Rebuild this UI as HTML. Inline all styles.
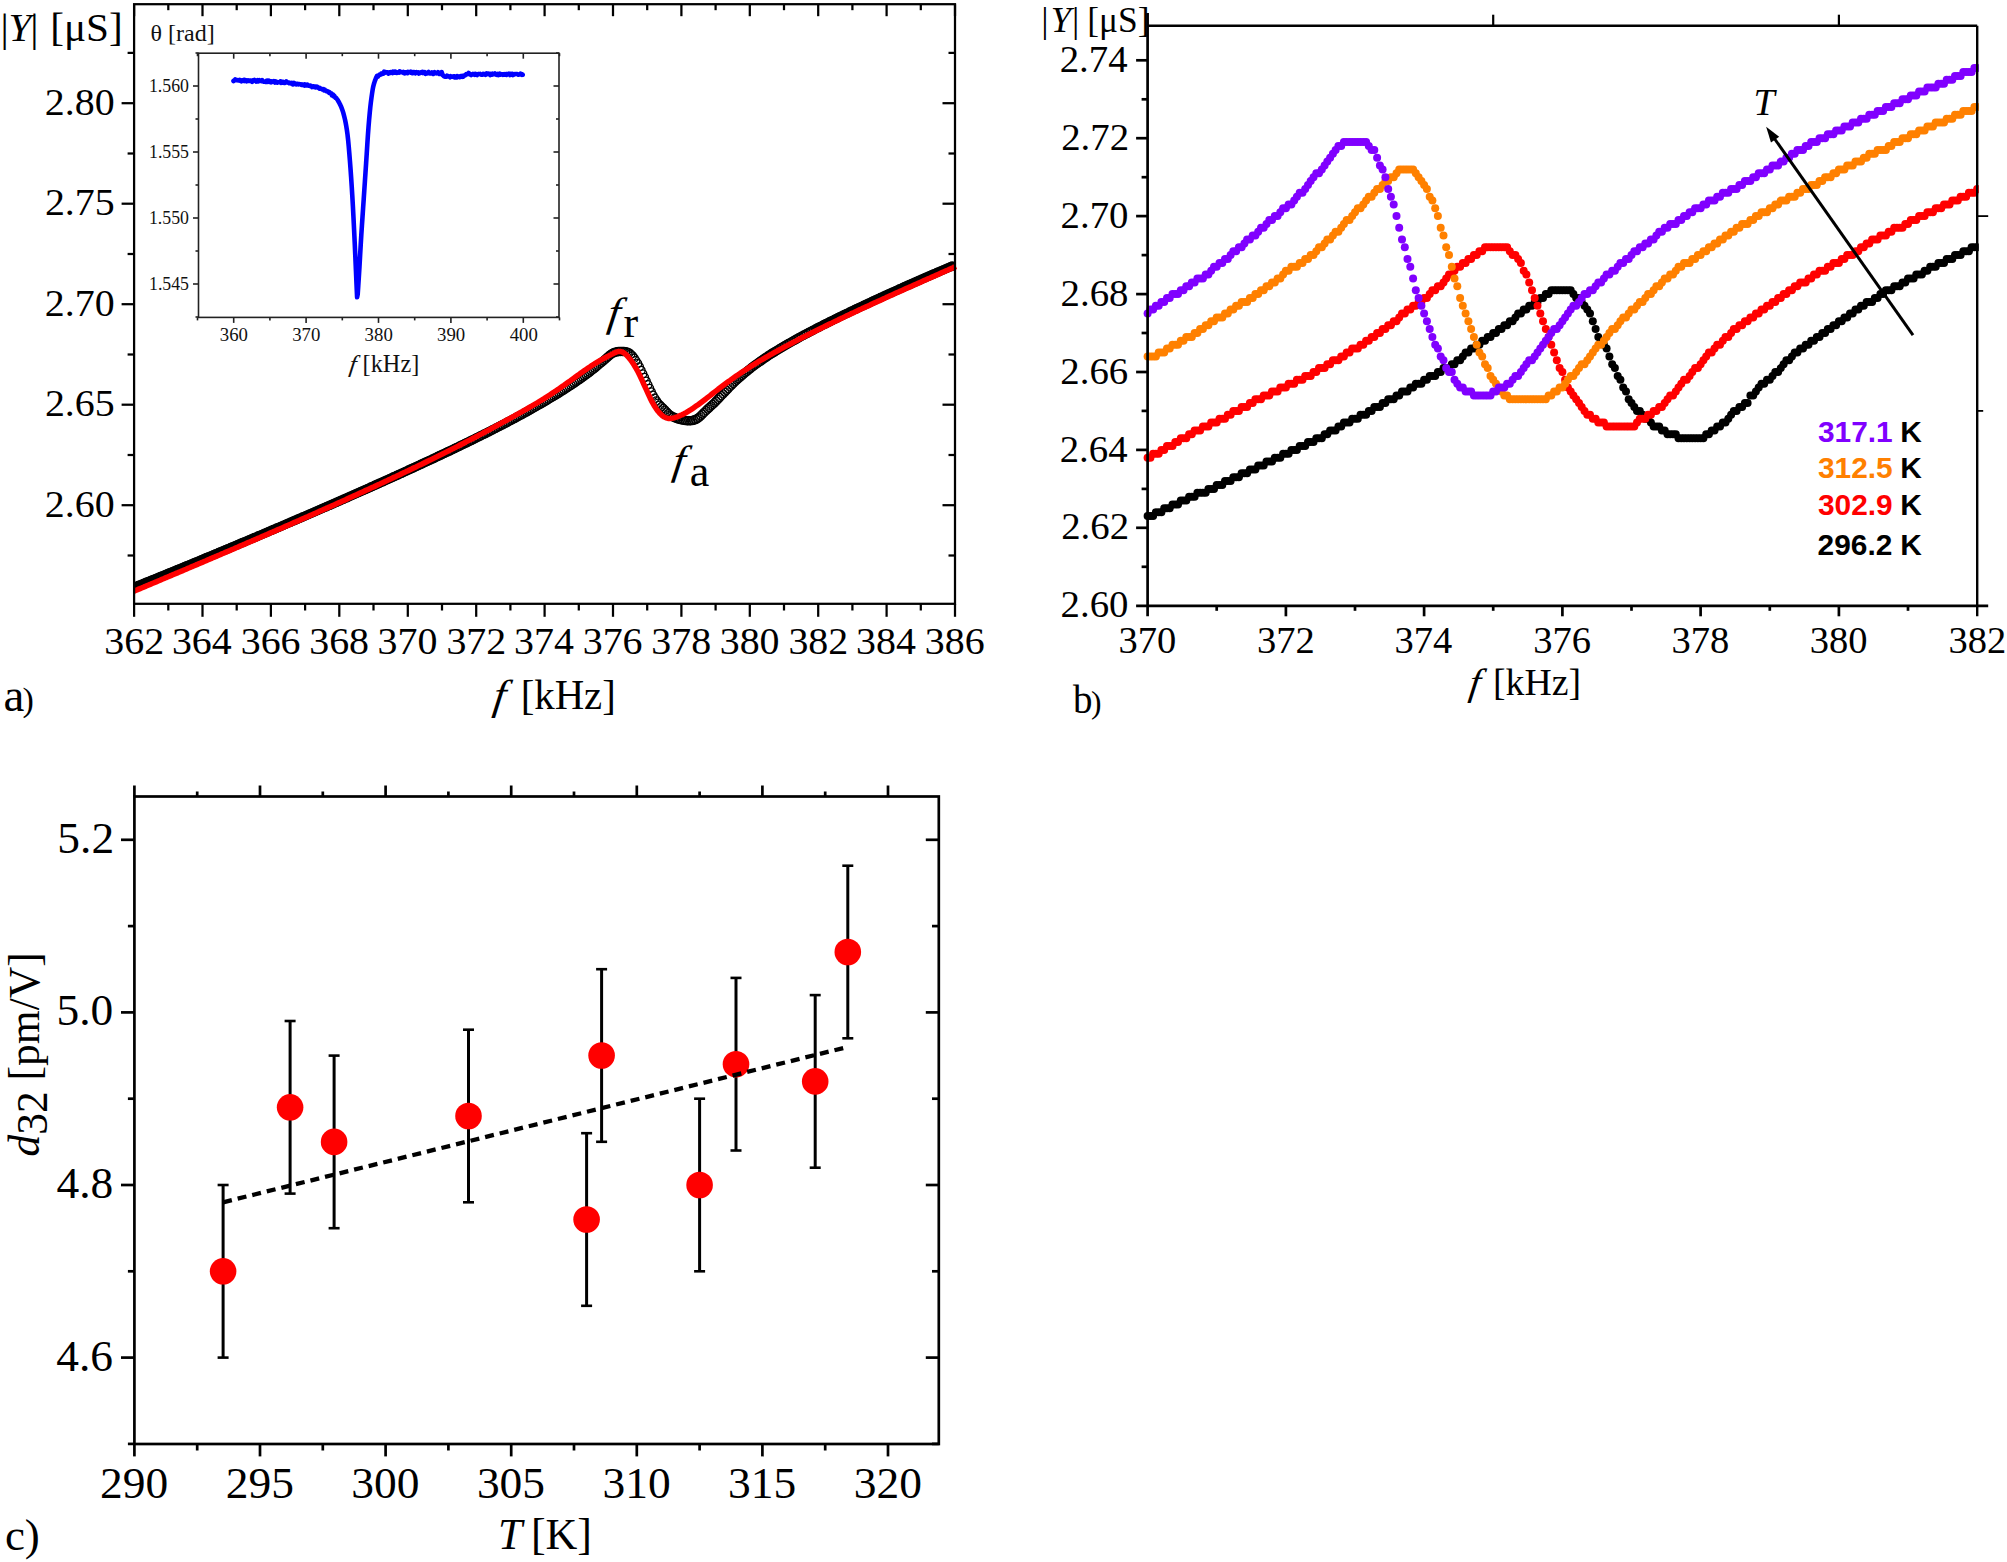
<!DOCTYPE html>
<html lang="en"><head><meta charset="utf-8"><title>Figure</title>
<style>html,body{margin:0;padding:0;background:#fff}svg{display:block}</style></head>
<body>
<svg width="2007" height="1562" viewBox="0 0 2007 1562">
<rect width="2007" height="1562" fill="#fff"/>
<g id="panel-a">
<defs><clipPath id="clipa"><rect x="134.1" y="4.2" width="820.9" height="599.6"/></clipPath></defs>
<g fill="none" stroke="#000" stroke-width="2.3" clip-path="url(#clipa)">
<circle cx="133.1" cy="587.7" r="3.62"/><circle cx="134.8" cy="587" r="3.62"/><circle cx="136.5" cy="586.3" r="3.62"/><circle cx="138.2" cy="585.6" r="3.62"/><circle cx="139.9" cy="584.9" r="3.62"/><circle cx="141.7" cy="584.2" r="3.62"/><circle cx="143.4" cy="583.5" r="3.62"/><circle cx="145.1" cy="582.8" r="3.62"/><circle cx="146.8" cy="582.1" r="3.62"/><circle cx="148.5" cy="581.5" r="3.62"/><circle cx="150.2" cy="580.8" r="3.62"/><circle cx="151.9" cy="580.1" r="3.62"/><circle cx="153.6" cy="579.4" r="3.62"/><circle cx="155.3" cy="578.7" r="3.62"/><circle cx="157" cy="578" r="3.62"/><circle cx="158.8" cy="577.3" r="3.62"/><circle cx="160.5" cy="576.6" r="3.62"/><circle cx="162.2" cy="575.9" r="3.62"/><circle cx="163.9" cy="575.2" r="3.62"/><circle cx="165.6" cy="574.5" r="3.62"/><circle cx="167.3" cy="573.8" r="3.62"/><circle cx="169" cy="573.1" r="3.62"/><circle cx="170.7" cy="572.4" r="3.62"/><circle cx="172.4" cy="571.7" r="3.62"/><circle cx="174.1" cy="571" r="3.62"/><circle cx="175.9" cy="570.3" r="3.62"/><circle cx="177.6" cy="569.6" r="3.62"/><circle cx="179.3" cy="568.9" r="3.62"/><circle cx="181" cy="568.2" r="3.62"/><circle cx="182.7" cy="567.5" r="3.62"/><circle cx="184.4" cy="566.8" r="3.62"/><circle cx="186.1" cy="566.1" r="3.62"/><circle cx="187.8" cy="565.4" r="3.62"/><circle cx="189.5" cy="564.7" r="3.62"/><circle cx="191.2" cy="564" r="3.62"/><circle cx="193" cy="563.3" r="3.62"/><circle cx="194.7" cy="562.6" r="3.62"/><circle cx="196.4" cy="561.9" r="3.62"/><circle cx="198.1" cy="561.2" r="3.62"/><circle cx="199.8" cy="560.5" r="3.62"/><circle cx="201.5" cy="559.7" r="3.62"/><circle cx="203.2" cy="559" r="3.62"/><circle cx="204.9" cy="558.3" r="3.62"/><circle cx="206.6" cy="557.6" r="3.62"/><circle cx="208.3" cy="556.9" r="3.62"/><circle cx="210.1" cy="556.2" r="3.62"/><circle cx="211.8" cy="555.5" r="3.62"/><circle cx="213.5" cy="554.8" r="3.62"/><circle cx="215.2" cy="554.1" r="3.62"/><circle cx="216.9" cy="553.4" r="3.62"/><circle cx="218.6" cy="552.6" r="3.62"/><circle cx="220.3" cy="551.9" r="3.62"/><circle cx="222" cy="551.2" r="3.62"/><circle cx="223.7" cy="550.5" r="3.62"/><circle cx="225.4" cy="549.8" r="3.62"/><circle cx="227.2" cy="549.1" r="3.62"/><circle cx="228.9" cy="548.4" r="3.62"/><circle cx="230.6" cy="547.6" r="3.62"/><circle cx="232.3" cy="546.9" r="3.62"/><circle cx="234" cy="546.2" r="3.62"/><circle cx="235.7" cy="545.5" r="3.62"/><circle cx="237.4" cy="544.8" r="3.62"/><circle cx="239.1" cy="544.1" r="3.62"/><circle cx="240.8" cy="543.3" r="3.62"/><circle cx="242.5" cy="542.6" r="3.62"/><circle cx="244.3" cy="541.9" r="3.62"/><circle cx="246" cy="541.2" r="3.62"/><circle cx="247.7" cy="540.5" r="3.62"/><circle cx="249.4" cy="539.7" r="3.62"/><circle cx="251.1" cy="539" r="3.62"/><circle cx="252.8" cy="538.3" r="3.62"/><circle cx="254.5" cy="537.6" r="3.62"/><circle cx="256.2" cy="536.9" r="3.62"/><circle cx="257.9" cy="536.1" r="3.62"/><circle cx="259.6" cy="535.4" r="3.62"/><circle cx="261.4" cy="534.7" r="3.62"/><circle cx="263.1" cy="534" r="3.62"/><circle cx="264.8" cy="533.2" r="3.62"/><circle cx="266.5" cy="532.5" r="3.62"/><circle cx="268.2" cy="531.8" r="3.62"/><circle cx="269.9" cy="531" r="3.62"/><circle cx="271.6" cy="530.3" r="3.62"/><circle cx="273.3" cy="529.6" r="3.62"/><circle cx="275" cy="528.9" r="3.62"/><circle cx="276.7" cy="528.1" r="3.62"/><circle cx="278.5" cy="527.4" r="3.62"/><circle cx="280.2" cy="526.7" r="3.62"/><circle cx="281.9" cy="525.9" r="3.62"/><circle cx="283.6" cy="525.2" r="3.62"/><circle cx="285.3" cy="524.5" r="3.62"/><circle cx="287" cy="523.7" r="3.62"/><circle cx="288.7" cy="523" r="3.62"/><circle cx="290.4" cy="522.3" r="3.62"/><circle cx="292.1" cy="521.5" r="3.62"/><circle cx="293.8" cy="520.8" r="3.62"/><circle cx="295.6" cy="520.1" r="3.62"/><circle cx="297.3" cy="519.3" r="3.62"/><circle cx="299" cy="518.6" r="3.62"/><circle cx="300.7" cy="517.9" r="3.62"/><circle cx="302.4" cy="517.1" r="3.62"/><circle cx="304.1" cy="516.4" r="3.62"/><circle cx="305.8" cy="515.7" r="3.62"/><circle cx="307.5" cy="514.9" r="3.62"/><circle cx="309.2" cy="514.2" r="3.62"/><circle cx="310.9" cy="513.4" r="3.62"/><circle cx="312.7" cy="512.7" r="3.62"/><circle cx="314.4" cy="512" r="3.62"/><circle cx="316.1" cy="511.2" r="3.62"/><circle cx="317.8" cy="510.5" r="3.62"/><circle cx="319.5" cy="509.7" r="3.62"/><circle cx="321.2" cy="509" r="3.62"/><circle cx="322.9" cy="508.2" r="3.62"/><circle cx="324.6" cy="507.5" r="3.62"/><circle cx="326.3" cy="506.8" r="3.62"/><circle cx="328" cy="506" r="3.62"/><circle cx="329.8" cy="505.3" r="3.62"/><circle cx="331.5" cy="504.5" r="3.62"/><circle cx="333.2" cy="503.8" r="3.62"/><circle cx="334.9" cy="503" r="3.62"/><circle cx="336.6" cy="502.3" r="3.62"/><circle cx="338.3" cy="501.5" r="3.62"/><circle cx="340" cy="500.8" r="3.62"/><circle cx="341.7" cy="500" r="3.62"/><circle cx="343.4" cy="499.3" r="3.62"/><circle cx="345.1" cy="498.5" r="3.62"/><circle cx="346.9" cy="497.8" r="3.62"/><circle cx="348.6" cy="497" r="3.62"/><circle cx="350.3" cy="496.2" r="3.62"/><circle cx="352" cy="495.5" r="3.62"/><circle cx="353.7" cy="494.7" r="3.62"/><circle cx="355.4" cy="494" r="3.62"/><circle cx="357.1" cy="493.2" r="3.62"/><circle cx="358.8" cy="492.5" r="3.62"/><circle cx="360.5" cy="491.7" r="3.62"/><circle cx="362.2" cy="490.9" r="3.62"/><circle cx="364" cy="490.2" r="3.62"/><circle cx="365.7" cy="489.4" r="3.62"/><circle cx="367.4" cy="488.7" r="3.62"/><circle cx="369.1" cy="487.9" r="3.62"/><circle cx="370.8" cy="487.1" r="3.62"/><circle cx="372.5" cy="486.4" r="3.62"/><circle cx="374.2" cy="485.6" r="3.62"/><circle cx="375.9" cy="484.8" r="3.62"/><circle cx="377.6" cy="484.1" r="3.62"/><circle cx="379.3" cy="483.3" r="3.62"/><circle cx="381.1" cy="482.5" r="3.62"/><circle cx="382.8" cy="481.8" r="3.62"/><circle cx="384.5" cy="481" r="3.62"/><circle cx="386.2" cy="480.2" r="3.62"/><circle cx="387.9" cy="479.5" r="3.62"/><circle cx="389.6" cy="478.7" r="3.62"/><circle cx="391.3" cy="477.9" r="3.62"/><circle cx="393" cy="477.1" r="3.62"/><circle cx="394.7" cy="476.4" r="3.62"/><circle cx="396.4" cy="475.6" r="3.62"/><circle cx="398.2" cy="474.8" r="3.62"/><circle cx="399.9" cy="474" r="3.62"/><circle cx="401.6" cy="473.3" r="3.62"/><circle cx="403.3" cy="472.5" r="3.62"/><circle cx="405" cy="471.7" r="3.62"/><circle cx="406.7" cy="470.9" r="3.62"/><circle cx="408.4" cy="470.1" r="3.62"/><circle cx="410.1" cy="469.3" r="3.62"/><circle cx="411.8" cy="468.6" r="3.62"/><circle cx="413.5" cy="467.8" r="3.62"/><circle cx="415.3" cy="467" r="3.62"/><circle cx="417" cy="466.2" r="3.62"/><circle cx="418.7" cy="465.4" r="3.62"/><circle cx="420.4" cy="464.6" r="3.62"/><circle cx="422.1" cy="463.8" r="3.62"/><circle cx="423.8" cy="463" r="3.62"/><circle cx="425.5" cy="462.2" r="3.62"/><circle cx="427.2" cy="461.4" r="3.62"/><circle cx="428.9" cy="460.7" r="3.62"/><circle cx="430.6" cy="459.9" r="3.62"/><circle cx="432.4" cy="459.1" r="3.62"/><circle cx="434.1" cy="458.3" r="3.62"/><circle cx="435.8" cy="457.5" r="3.62"/><circle cx="437.5" cy="456.6" r="3.62"/><circle cx="439.2" cy="455.8" r="3.62"/><circle cx="815.4" cy="329" r="3.62"/><circle cx="817.1" cy="328.1" r="3.62"/><circle cx="818.8" cy="327.3" r="3.62"/><circle cx="820.5" cy="326.4" r="3.62"/><circle cx="822.2" cy="325.5" r="3.62"/><circle cx="823.9" cy="324.6" r="3.62"/><circle cx="825.7" cy="323.8" r="3.62"/><circle cx="827.4" cy="322.9" r="3.62"/><circle cx="829.1" cy="322.1" r="3.62"/><circle cx="830.8" cy="321.2" r="3.62"/><circle cx="832.5" cy="320.4" r="3.62"/><circle cx="834.2" cy="319.5" r="3.62"/><circle cx="835.9" cy="318.7" r="3.62"/><circle cx="837.6" cy="317.8" r="3.62"/><circle cx="839.3" cy="317" r="3.62"/><circle cx="841" cy="316.2" r="3.62"/><circle cx="842.8" cy="315.3" r="3.62"/><circle cx="844.5" cy="314.5" r="3.62"/><circle cx="846.2" cy="313.7" r="3.62"/><circle cx="847.9" cy="312.9" r="3.62"/><circle cx="849.6" cy="312" r="3.62"/><circle cx="851.3" cy="311.2" r="3.62"/><circle cx="853" cy="310.4" r="3.62"/><circle cx="854.7" cy="309.6" r="3.62"/><circle cx="856.4" cy="308.8" r="3.62"/><circle cx="858.1" cy="308" r="3.62"/><circle cx="859.9" cy="307.2" r="3.62"/><circle cx="861.6" cy="306.4" r="3.62"/><circle cx="863.3" cy="305.6" r="3.62"/><circle cx="865" cy="304.8" r="3.62"/><circle cx="866.7" cy="304" r="3.62"/><circle cx="868.4" cy="303.2" r="3.62"/><circle cx="870.1" cy="302.4" r="3.62"/><circle cx="871.8" cy="301.6" r="3.62"/><circle cx="873.5" cy="300.8" r="3.62"/><circle cx="875.2" cy="300" r="3.62"/><circle cx="877" cy="299.2" r="3.62"/><circle cx="878.7" cy="298.4" r="3.62"/><circle cx="880.4" cy="297.6" r="3.62"/><circle cx="882.1" cy="296.9" r="3.62"/><circle cx="883.8" cy="296.1" r="3.62"/><circle cx="885.5" cy="295.3" r="3.62"/><circle cx="887.2" cy="294.5" r="3.62"/><circle cx="888.9" cy="293.7" r="3.62"/><circle cx="890.6" cy="293" r="3.62"/><circle cx="892.3" cy="292.2" r="3.62"/><circle cx="894.1" cy="291.4" r="3.62"/><circle cx="895.8" cy="290.7" r="3.62"/><circle cx="897.5" cy="289.9" r="3.62"/><circle cx="899.2" cy="289.1" r="3.62"/><circle cx="900.9" cy="288.4" r="3.62"/><circle cx="902.6" cy="287.6" r="3.62"/><circle cx="904.3" cy="286.8" r="3.62"/><circle cx="906" cy="286.1" r="3.62"/><circle cx="907.7" cy="285.3" r="3.62"/><circle cx="909.4" cy="284.6" r="3.62"/><circle cx="911.2" cy="283.8" r="3.62"/><circle cx="912.9" cy="283.1" r="3.62"/><circle cx="914.6" cy="282.3" r="3.62"/><circle cx="916.3" cy="281.6" r="3.62"/><circle cx="918" cy="280.8" r="3.62"/><circle cx="919.7" cy="280.1" r="3.62"/><circle cx="921.4" cy="279.3" r="3.62"/><circle cx="923.1" cy="278.6" r="3.62"/><circle cx="924.8" cy="277.8" r="3.62"/><circle cx="926.5" cy="277.1" r="3.62"/><circle cx="928.3" cy="276.3" r="3.62"/><circle cx="930" cy="275.6" r="3.62"/><circle cx="931.7" cy="274.8" r="3.62"/><circle cx="933.4" cy="274.1" r="3.62"/><circle cx="935.1" cy="273.4" r="3.62"/><circle cx="936.8" cy="272.6" r="3.62"/><circle cx="938.5" cy="271.9" r="3.62"/><circle cx="940.2" cy="271.2" r="3.62"/><circle cx="941.9" cy="270.4" r="3.62"/><circle cx="943.6" cy="269.7" r="3.62"/><circle cx="945.4" cy="269" r="3.62"/><circle cx="947.1" cy="268.2" r="3.62"/><circle cx="948.8" cy="267.5" r="3.62"/><circle cx="950.5" cy="266.8" r="3.62"/><circle cx="952.2" cy="266.1" r="3.62"/>
</g>
<g fill="none" stroke="#000" stroke-width="1.35" clip-path="url(#clipa)">
<circle cx="440.9" cy="455" r="4.1"/><circle cx="442.6" cy="454.2" r="4.1"/><circle cx="444.3" cy="453.4" r="4.1"/><circle cx="446" cy="452.6" r="4.1"/><circle cx="447.7" cy="451.8" r="4.1"/><circle cx="449.5" cy="451" r="4.1"/><circle cx="451.2" cy="450.2" r="4.1"/><circle cx="452.9" cy="449.4" r="4.1"/><circle cx="454.6" cy="448.5" r="4.1"/><circle cx="456.3" cy="447.7" r="4.1"/><circle cx="458" cy="446.9" r="4.1"/><circle cx="459.7" cy="446.1" r="4.1"/><circle cx="461.4" cy="445.2" r="4.1"/><circle cx="463.1" cy="444.4" r="4.1"/><circle cx="464.8" cy="443.6" r="4.1"/><circle cx="466.6" cy="442.8" r="4.1"/><circle cx="468.3" cy="441.9" r="4.1"/><circle cx="470" cy="441.1" r="4.1"/><circle cx="471.7" cy="440.3" r="4.1"/><circle cx="473.4" cy="439.4" r="4.1"/><circle cx="475.1" cy="438.6" r="4.1"/><circle cx="476.8" cy="437.7" r="4.1"/><circle cx="478.5" cy="436.9" r="4.1"/><circle cx="480.2" cy="436" r="4.1"/><circle cx="481.9" cy="435.2" r="4.1"/><circle cx="483.7" cy="434.3" r="4.1"/><circle cx="485.4" cy="433.5" r="4.1"/><circle cx="487.1" cy="432.6" r="4.1"/><circle cx="488.8" cy="431.8" r="4.1"/><circle cx="490.5" cy="430.9" r="4.1"/><circle cx="492.2" cy="430" r="4.1"/><circle cx="493.9" cy="429.2" r="4.1"/><circle cx="495.6" cy="428.3" r="4.1"/><circle cx="497.3" cy="427.4" r="4.1"/><circle cx="499" cy="426.5" r="4.1"/><circle cx="500.8" cy="425.6" r="4.1"/><circle cx="502.5" cy="424.8" r="4.1"/><circle cx="504.2" cy="423.9" r="4.1"/><circle cx="505.9" cy="423" r="4.1"/><circle cx="507.6" cy="422.1" r="4.1"/><circle cx="509.3" cy="421.2" r="4.1"/><circle cx="511" cy="420.3" r="4.1"/><circle cx="512.7" cy="419.4" r="4.1"/><circle cx="514.4" cy="418.5" r="4.1"/><circle cx="516.1" cy="417.6" r="4.1"/><circle cx="517.9" cy="416.6" r="4.1"/><circle cx="519.6" cy="415.7" r="4.1"/><circle cx="521.3" cy="414.8" r="4.1"/><circle cx="523" cy="413.9" r="4.1"/><circle cx="524.7" cy="412.9" r="4.1"/><circle cx="526.4" cy="412" r="4.1"/><circle cx="528.1" cy="411" r="4.1"/><circle cx="529.8" cy="410.1" r="4.1"/><circle cx="531.5" cy="409.1" r="4.1"/><circle cx="533.2" cy="408.2" r="4.1"/><circle cx="535" cy="407.2" r="4.1"/><circle cx="536.7" cy="406.2" r="4.1"/><circle cx="538.4" cy="405.2" r="4.1"/><circle cx="540.1" cy="404.3" r="4.1"/><circle cx="541.8" cy="403.3" r="4.1"/><circle cx="543.5" cy="402.3" r="4.1"/><circle cx="545.2" cy="401.3" r="4.1"/><circle cx="546.9" cy="400.3" r="4.1"/><circle cx="548.6" cy="399.2" r="4.1"/><circle cx="550.3" cy="398.2" r="4.1"/><circle cx="552.1" cy="397.2" r="4.1"/><circle cx="553.8" cy="396.2" r="4.1"/><circle cx="555.5" cy="395.1" r="4.1"/><circle cx="557.2" cy="394.1" r="4.1"/><circle cx="558.9" cy="393" r="4.1"/><circle cx="560.6" cy="391.9" r="4.1"/><circle cx="562.3" cy="390.8" r="4.1"/><circle cx="564" cy="389.8" r="4.1"/><circle cx="565.7" cy="388.7" r="4.1"/><circle cx="567.4" cy="387.6" r="4.1"/><circle cx="569.2" cy="386.4" r="4.1"/><circle cx="570.9" cy="385.3" r="4.1"/><circle cx="572.6" cy="384.2" r="4.1"/><circle cx="574.3" cy="383" r="4.1"/><circle cx="576" cy="381.8" r="4.1"/><circle cx="577.7" cy="380.7" r="4.1"/><circle cx="579.4" cy="379.5" r="4.1"/><circle cx="581.1" cy="378.3" r="4.1"/><circle cx="582.8" cy="377" r="4.1"/><circle cx="584.5" cy="375.8" r="4.1"/><circle cx="586.3" cy="374.5" r="4.1"/><circle cx="588" cy="373.3" r="4.1"/><circle cx="589.7" cy="372" r="4.1"/><circle cx="591.4" cy="370.6" r="4.1"/><circle cx="593.1" cy="369.3" r="4.1"/><circle cx="594.8" cy="368" r="4.1"/><circle cx="596.5" cy="366.6" r="4.1"/><circle cx="598.2" cy="365.2" r="4.1"/><circle cx="599.9" cy="363.7" r="4.1"/><circle cx="601.6" cy="362.3" r="4.1"/><circle cx="603.4" cy="360.8" r="4.1"/><circle cx="605.1" cy="359.3" r="4.1"/><circle cx="606.8" cy="357.8" r="4.1"/><circle cx="608.5" cy="356.3" r="4.1"/><circle cx="610.2" cy="354.9" r="4.1"/><circle cx="611.9" cy="353.7" r="4.1"/><circle cx="613.6" cy="352.8" r="4.1"/><circle cx="615.3" cy="352.2" r="4.1"/><circle cx="617" cy="351.8" r="4.1"/><circle cx="618.7" cy="351.5" r="4.1"/><circle cx="620.5" cy="351.4" r="4.1"/><circle cx="622.2" cy="351.4" r="4.1"/><circle cx="623.9" cy="351.5" r="4.1"/><circle cx="625.6" cy="351.7" r="4.1"/><circle cx="627.3" cy="352.2" r="4.1"/><circle cx="629" cy="353" r="4.1"/><circle cx="630.7" cy="354.3" r="4.1"/><circle cx="632.4" cy="356" r="4.1"/><circle cx="634.1" cy="358.2" r="4.1"/><circle cx="635.8" cy="360.8" r="4.1"/><circle cx="637.6" cy="363.7" r="4.1"/><circle cx="639.3" cy="366.9" r="4.1"/><circle cx="641" cy="370.4" r="4.1"/><circle cx="642.7" cy="373.9" r="4.1"/><circle cx="644.4" cy="377.5" r="4.1"/><circle cx="646.1" cy="381.2" r="4.1"/><circle cx="647.8" cy="384.8" r="4.1"/><circle cx="649.5" cy="388.4" r="4.1"/><circle cx="651.2" cy="391.9" r="4.1"/><circle cx="652.9" cy="395.3" r="4.1"/><circle cx="654.7" cy="398.3" r="4.1"/><circle cx="656.4" cy="401" r="4.1"/><circle cx="658.1" cy="403.3" r="4.1"/><circle cx="659.8" cy="405.2" r="4.1"/><circle cx="661.5" cy="406.8" r="4.1"/><circle cx="663.2" cy="408.5" r="4.1"/><circle cx="664.9" cy="410.2" r="4.1"/><circle cx="666.6" cy="412" r="4.1"/><circle cx="668.3" cy="413.7" r="4.1"/><circle cx="670" cy="415.2" r="4.1"/><circle cx="671.8" cy="416.3" r="4.1"/><circle cx="673.5" cy="417.1" r="4.1"/><circle cx="675.2" cy="417.8" r="4.1"/><circle cx="676.9" cy="418.5" r="4.1"/><circle cx="678.6" cy="419" r="4.1"/><circle cx="680.3" cy="419.5" r="4.1"/><circle cx="682" cy="419.9" r="4.1"/><circle cx="683.7" cy="420.2" r="4.1"/><circle cx="685.4" cy="420.5" r="4.1"/><circle cx="687.1" cy="420.7" r="4.1"/><circle cx="688.9" cy="420.8" r="4.1"/><circle cx="690.6" cy="420.7" r="4.1"/><circle cx="692.3" cy="420.5" r="4.1"/><circle cx="694" cy="420.1" r="4.1"/><circle cx="695.7" cy="419.5" r="4.1"/><circle cx="697.4" cy="418.5" r="4.1"/><circle cx="699.1" cy="417.3" r="4.1"/><circle cx="700.8" cy="415.8" r="4.1"/><circle cx="702.5" cy="414.1" r="4.1"/><circle cx="704.2" cy="412.4" r="4.1"/><circle cx="706" cy="410.7" r="4.1"/><circle cx="707.7" cy="409" r="4.1"/><circle cx="709.4" cy="407.5" r="4.1"/><circle cx="711.1" cy="405.9" r="4.1"/><circle cx="712.8" cy="404.4" r="4.1"/><circle cx="714.5" cy="402.8" r="4.1"/><circle cx="716.2" cy="401.1" r="4.1"/><circle cx="717.9" cy="399.3" r="4.1"/><circle cx="719.6" cy="397.5" r="4.1"/><circle cx="721.3" cy="395.7" r="4.1"/><circle cx="723.1" cy="393.9" r="4.1"/><circle cx="724.8" cy="392.1" r="4.1"/><circle cx="726.5" cy="390.3" r="4.1"/><circle cx="728.2" cy="388.5" r="4.1"/><circle cx="729.9" cy="386.7" r="4.1"/><circle cx="731.6" cy="385" r="4.1"/><circle cx="733.3" cy="383.4" r="4.1"/><circle cx="735" cy="381.7" r="4.1"/><circle cx="736.7" cy="380.1" r="4.1"/><circle cx="738.4" cy="378.6" r="4.1"/><circle cx="740.2" cy="377.1" r="4.1"/><circle cx="741.9" cy="375.6" r="4.1"/><circle cx="743.6" cy="374.1" r="4.1"/><circle cx="745.3" cy="372.7" r="4.1"/><circle cx="747" cy="371.3" r="4.1"/><circle cx="748.7" cy="369.9" r="4.1"/><circle cx="750.4" cy="368.6" r="4.1"/><circle cx="752.1" cy="367.2" r="4.1"/><circle cx="753.8" cy="365.9" r="4.1"/><circle cx="755.5" cy="364.7" r="4.1"/><circle cx="757.3" cy="363.4" r="4.1"/><circle cx="759" cy="362.2" r="4.1"/><circle cx="760.7" cy="361" r="4.1"/><circle cx="762.4" cy="359.8" r="4.1"/><circle cx="764.1" cy="358.6" r="4.1"/><circle cx="765.8" cy="357.5" r="4.1"/><circle cx="767.5" cy="356.3" r="4.1"/><circle cx="769.2" cy="355.2" r="4.1"/><circle cx="770.9" cy="354.1" r="4.1"/><circle cx="772.6" cy="353" r="4.1"/><circle cx="774.4" cy="352" r="4.1"/><circle cx="776.1" cy="350.9" r="4.1"/><circle cx="777.8" cy="349.9" r="4.1"/><circle cx="779.5" cy="348.8" r="4.1"/><circle cx="781.2" cy="347.8" r="4.1"/><circle cx="782.9" cy="346.8" r="4.1"/><circle cx="784.6" cy="345.8" r="4.1"/><circle cx="786.3" cy="344.8" r="4.1"/><circle cx="788" cy="343.8" r="4.1"/><circle cx="789.7" cy="342.9" r="4.1"/><circle cx="791.5" cy="341.9" r="4.1"/><circle cx="793.2" cy="340.9" r="4.1"/><circle cx="794.9" cy="340" r="4.1"/><circle cx="796.6" cy="339" r="4.1"/><circle cx="798.3" cy="338.1" r="4.1"/><circle cx="800" cy="337.2" r="4.1"/><circle cx="801.7" cy="336.2" r="4.1"/><circle cx="803.4" cy="335.3" r="4.1"/><circle cx="805.1" cy="334.4" r="4.1"/><circle cx="806.8" cy="333.5" r="4.1"/><circle cx="808.6" cy="332.6" r="4.1"/><circle cx="810.3" cy="331.7" r="4.1"/><circle cx="812" cy="330.8" r="4.1"/><circle cx="813.7" cy="329.9" r="4.1"/>
</g>
<path d="M134.1 591.1 L136.1 590.3 L138.1 589.4 L140.1 588.6 L142.1 587.8 L144.1 586.9 L146.1 586.1 L148.1 585.2 L150.1 584.4 L152.1 583.5 L154.1 582.7 L156.1 581.9 L158.1 581 L160.1 580.2 L162.1 579.3 L164.1 578.5 L166.1 577.6 L168.1 576.8 L170.1 575.9 L172.1 575.1 L174.1 574.2 L176.1 573.4 L178.1 572.6 L180.1 571.7 L182.1 570.9 L184.1 570 L186.1 569.2 L188.1 568.3 L190.1 567.5 L192.1 566.6 L194.1 565.8 L196.1 564.9 L198.1 564.1 L200.1 563.2 L202.1 562.4 L204.1 561.5 L206.1 560.7 L208.1 559.8 L210.1 558.9 L212.1 558.1 L214.1 557.2 L216.1 556.4 L218.1 555.5 L220.1 554.7 L222.1 553.8 L224.1 553 L226.1 552.1 L228.1 551.3 L230.1 550.4 L232.1 549.5 L234.1 548.7 L236.1 547.8 L238.1 547 L240.1 546.1 L242.1 545.2 L244.1 544.4 L246.1 543.5 L248.1 542.6 L250.1 541.8 L252.1 540.9 L254.1 540.1 L256.1 539.2 L258.1 538.3 L260.1 537.5 L262.1 536.6 L264.1 535.7 L266.1 534.9 L268.1 534 L270.1 533.1 L272.1 532.2 L274.1 531.4 L276.1 530.5 L278.1 529.6 L280.1 528.8 L282.1 527.9 L284.1 527 L286.1 526.1 L288.1 525.3 L290.1 524.4 L292.1 523.5 L294.1 522.6 L296.1 521.7 L298.1 520.9 L300.1 520 L302.1 519.1 L304.1 518.2 L306.1 517.3 L308.1 516.5 L310.1 515.6 L312.1 514.7 L314.1 513.8 L316.1 512.9 L318.1 512 L320.1 511.1 L322.1 510.2 L324.1 509.3 L326.1 508.4 L328.1 507.6 L330.1 506.7 L332.1 505.8 L334.1 504.9 L336.1 504 L338.1 503.1 L340.1 502.2 L342.1 501.3 L344.1 500.4 L346.1 499.5 L348.1 498.5 L350.1 497.6 L352.1 496.7 L354.1 495.8 L356.1 494.9 L358.1 494 L360.1 493.1 L362.1 492.2 L364.1 491.3 L366.1 490.3 L368.1 489.4 L370.1 488.5 L372.1 487.6 L374.1 486.7 L376.1 485.7 L378.1 484.8 L380.1 483.9 L382.1 482.9 L384.1 482 L386.1 481.1 L388.1 480.1 L390.1 479.2 L392.1 478.3 L394.1 477.3 L396.1 476.4 L398.1 475.4 L400.1 474.5 L402.1 473.5 L404.1 472.6 L406.1 471.6 L408.1 470.7 L410.1 469.7 L412.1 468.8 L414.1 467.8 L416.1 466.9 L418.1 465.9 L420.1 464.9 L422.1 464 L424.1 463 L426.1 462 L428.1 461 L430.1 460.1 L432.1 459.1 L434.1 458.1 L436.1 457.1 L438.1 456.1 L440.1 455.1 L442.1 454.1 L444.1 453.1 L446.1 452.1 L448.1 451.1 L450.1 450.1 L452.1 449.1 L454.1 448.1 L456.1 447.1 L458.1 446.1 L460.1 445 L462.1 444 L464.1 443 L466.1 441.9 L468.1 440.9 L470.1 439.9 L472.1 438.8 L474.1 437.8 L476.1 436.7 L478.1 435.7 L480.1 434.6 L482.1 433.6 L484.1 432.5 L486.1 431.4 L488.1 430.4 L490.1 429.3 L492.1 428.2 L494.1 427.1 L496.1 426 L498.1 424.9 L500.1 423.8 L502.1 422.7 L504.1 421.6 L506.1 420.5 L508.1 419.4 L510.1 418.3 L512.1 417.2 L514.1 416.1 L516.1 414.9 L518.1 413.8 L520.1 412.7 L522.1 411.6 L524.1 410.4 L526.1 409.3 L528.1 408.1 L530.1 407 L532.1 405.8 L534.1 404.7 L536.1 403.5 L538.1 402.3 L540.1 401 L542.1 399.8 L544.1 398.6 L546.1 397.3 L548.1 396 L550.1 394.7 L552.1 393.4 L554.1 392.1 L556.1 390.7 L558.1 389.4 L560.1 388 L562.1 386.6 L564.1 385.2 L566.1 383.7 L568.1 382.3 L570.1 380.9 L572.1 379.4 L574.1 378 L576.1 376.5 L578.1 375.1 L580.1 373.6 L582.1 372.2 L584.1 370.8 L586.1 369.4 L588.1 368 L590.1 366.7 L592.1 365.3 L594.1 364.1 L596.1 362.8 L598.1 361.6 L600.1 360.5 L602.1 359.3 L604.1 358.2 L606.1 357.2 L608.1 356.1 L610.1 355.1 L612.1 354.1 L614.1 353.1 L616.1 352.2 L618.1 351.5 L620.1 351.4 L622.1 351.9 L624.1 353 L626.1 354.7 L628.1 356.8 L630.1 359.2 L632.1 362 L634.1 365 L636.1 368.4 L638.1 372 L640.1 376 L642.1 380.3 L644.1 384.8 L646.1 389.2 L648.1 393.6 L650.1 397.9 L652.1 401.9 L654.1 405.5 L656.1 408.6 L658.1 411.3 L660.1 413.6 L662.1 415.5 L664.1 416.9 L666.1 417.9 L668.1 418.4 L670.1 418.5 L672.1 418.3 L674.1 417.8 L676.1 417.2 L678.1 416.5 L680.1 415.6 L682.1 414.7 L684.1 413.7 L686.1 412.6 L688.1 411.4 L690.1 410.2 L692.1 408.9 L694.1 407.5 L696.1 406.1 L698.1 404.7 L700.1 403.2 L702.1 401.7 L704.1 400.2 L706.1 398.7 L708.1 397.1 L710.1 395.6 L712.1 394 L714.1 392.4 L716.1 390.9 L718.1 389.3 L720.1 387.8 L722.1 386.3 L724.1 384.8 L726.1 383.3 L728.1 381.8 L730.1 380.4 L732.1 378.9 L734.1 377.5 L736.1 376.1 L738.1 374.8 L740.1 373.4 L742.1 372.1 L744.1 370.8 L746.1 369.5 L748.1 368.2 L750.1 366.9 L752.1 365.6 L754.1 364.4 L756.1 363.2 L758.1 361.9 L760.1 360.7 L762.1 359.6 L764.1 358.4 L766.1 357.2 L768.1 356.1 L770.1 354.9 L772.1 353.8 L774.1 352.7 L776.1 351.6 L778.1 350.5 L780.1 349.4 L782.1 348.3 L784.1 347.2 L786.1 346.1 L788.1 345.1 L790.1 344 L792.1 343 L794.1 341.9 L796.1 340.9 L798.1 339.8 L800.1 338.8 L802.1 337.8 L804.1 336.8 L806.1 335.7 L808.1 334.7 L810.1 333.7 L812.1 332.7 L814.1 331.7 L816.1 330.7 L818.1 329.7 L820.1 328.7 L822.1 327.7 L824.1 326.8 L826.1 325.8 L828.1 324.8 L830.1 323.8 L832.1 322.9 L834.1 321.9 L836.1 320.9 L838.1 320 L840.1 319 L842.1 318.1 L844.1 317.1 L846.1 316.1 L848.1 315.2 L850.1 314.3 L852.1 313.3 L854.1 312.4 L856.1 311.4 L858.1 310.5 L860.1 309.6 L862.1 308.6 L864.1 307.7 L866.1 306.8 L868.1 305.9 L870.1 305 L872.1 304 L874.1 303.1 L876.1 302.2 L878.1 301.3 L880.1 300.4 L882.1 299.5 L884.1 298.6 L886.1 297.6 L888.1 296.7 L890.1 295.8 L892.1 294.9 L894.1 294 L896.1 293.1 L898.1 292.2 L900.1 291.3 L902.1 290.4 L904.1 289.5 L906.1 288.6 L908.1 287.7 L910.1 286.9 L912.1 286 L914.1 285.1 L916.1 284.2 L918.1 283.3 L920.1 282.4 L922.1 281.5 L924.1 280.6 L926.1 279.7 L928.1 278.8 L930.1 278 L932.1 277.1 L934.1 276.2 L936.1 275.3 L938.1 274.4 L940.1 273.5 L942.1 272.6 L944.1 271.7 L946.1 270.8 L948.1 270 L950.1 269.1 L952.1 268.2 L954.1 267.3 L956 266.4" fill="none" stroke="#f00" stroke-width="5.5" stroke-linejoin="round"/>
<rect x="134.1" y="4.2" width="820.9" height="599.6" fill="none" stroke="#000" stroke-width="2.25"/>
<line x1="134.1" y1="603.8" x2="134.1" y2="616.8" stroke="#000" stroke-width="2.25" />
<line x1="134.1" y1="4.2" x2="134.1" y2="16.2" stroke="#000" stroke-width="2.25" />
<text transform="translate(104.3 653.8) scale(1.05 1)" font-family='"Liberation Serif", "DejaVu Serif", serif' font-size="38" fill="#000">362</text>
<line x1="168.3" y1="603.8" x2="168.3" y2="610.5" stroke="#000" stroke-width="2.25" />
<line x1="168.3" y1="4.2" x2="168.3" y2="10.2" stroke="#000" stroke-width="2.25" />
<line x1="202.5" y1="603.8" x2="202.5" y2="616.8" stroke="#000" stroke-width="2.25" />
<line x1="202.5" y1="4.2" x2="202.5" y2="16.2" stroke="#000" stroke-width="2.25" />
<text transform="translate(171.9 653.8) scale(1.05 1)" font-family='"Liberation Serif", "DejaVu Serif", serif' font-size="38" fill="#000">364</text>
<line x1="236.7" y1="603.8" x2="236.7" y2="610.5" stroke="#000" stroke-width="2.25" />
<line x1="236.7" y1="4.2" x2="236.7" y2="10.2" stroke="#000" stroke-width="2.25" />
<line x1="270.9" y1="603.8" x2="270.9" y2="616.8" stroke="#000" stroke-width="2.25" />
<line x1="270.9" y1="4.2" x2="270.9" y2="16.2" stroke="#000" stroke-width="2.25" />
<text transform="translate(240.7 653.8) scale(1.05 1)" font-family='"Liberation Serif", "DejaVu Serif", serif' font-size="38" fill="#000">366</text>
<line x1="305.1" y1="603.8" x2="305.1" y2="610.5" stroke="#000" stroke-width="2.25" />
<line x1="305.1" y1="4.2" x2="305.1" y2="10.2" stroke="#000" stroke-width="2.25" />
<line x1="339.3" y1="603.8" x2="339.3" y2="616.8" stroke="#000" stroke-width="2.25" />
<line x1="339.3" y1="4.2" x2="339.3" y2="16.2" stroke="#000" stroke-width="2.25" />
<text transform="translate(309.2 653.8) scale(1.05 1)" font-family='"Liberation Serif", "DejaVu Serif", serif' font-size="38" fill="#000">368</text>
<line x1="373.5" y1="603.8" x2="373.5" y2="610.5" stroke="#000" stroke-width="2.25" />
<line x1="373.5" y1="4.2" x2="373.5" y2="10.2" stroke="#000" stroke-width="2.25" />
<line x1="407.8" y1="603.8" x2="407.8" y2="616.8" stroke="#000" stroke-width="2.25" />
<line x1="407.8" y1="4.2" x2="407.8" y2="16.2" stroke="#000" stroke-width="2.25" />
<text transform="translate(377.6 653.8) scale(1.05 1)" font-family='"Liberation Serif", "DejaVu Serif", serif' font-size="38" fill="#000">370</text>
<line x1="442" y1="603.8" x2="442" y2="610.5" stroke="#000" stroke-width="2.25" />
<line x1="442" y1="4.2" x2="442" y2="10.2" stroke="#000" stroke-width="2.25" />
<line x1="476.2" y1="603.8" x2="476.2" y2="616.8" stroke="#000" stroke-width="2.25" />
<line x1="476.2" y1="4.2" x2="476.2" y2="16.2" stroke="#000" stroke-width="2.25" />
<text transform="translate(446.4 653.8) scale(1.05 1)" font-family='"Liberation Serif", "DejaVu Serif", serif' font-size="38" fill="#000">372</text>
<line x1="510.4" y1="603.8" x2="510.4" y2="610.5" stroke="#000" stroke-width="2.25" />
<line x1="510.4" y1="4.2" x2="510.4" y2="10.2" stroke="#000" stroke-width="2.25" />
<line x1="544.6" y1="603.8" x2="544.6" y2="616.8" stroke="#000" stroke-width="2.25" />
<line x1="544.6" y1="4.2" x2="544.6" y2="16.2" stroke="#000" stroke-width="2.25" />
<text transform="translate(514 653.8) scale(1.05 1)" font-family='"Liberation Serif", "DejaVu Serif", serif' font-size="38" fill="#000">374</text>
<line x1="578.8" y1="603.8" x2="578.8" y2="610.5" stroke="#000" stroke-width="2.25" />
<line x1="578.8" y1="4.2" x2="578.8" y2="10.2" stroke="#000" stroke-width="2.25" />
<line x1="613" y1="603.8" x2="613" y2="616.8" stroke="#000" stroke-width="2.25" />
<line x1="613" y1="4.2" x2="613" y2="16.2" stroke="#000" stroke-width="2.25" />
<text transform="translate(582.7 653.8) scale(1.05 1)" font-family='"Liberation Serif", "DejaVu Serif", serif' font-size="38" fill="#000">376</text>
<line x1="647.2" y1="603.8" x2="647.2" y2="610.5" stroke="#000" stroke-width="2.25" />
<line x1="647.2" y1="4.2" x2="647.2" y2="10.2" stroke="#000" stroke-width="2.25" />
<line x1="681.4" y1="603.8" x2="681.4" y2="616.8" stroke="#000" stroke-width="2.25" />
<line x1="681.4" y1="4.2" x2="681.4" y2="16.2" stroke="#000" stroke-width="2.25" />
<text transform="translate(651.3 653.8) scale(1.05 1)" font-family='"Liberation Serif", "DejaVu Serif", serif' font-size="38" fill="#000">378</text>
<line x1="715.6" y1="603.8" x2="715.6" y2="610.5" stroke="#000" stroke-width="2.25" />
<line x1="715.6" y1="4.2" x2="715.6" y2="10.2" stroke="#000" stroke-width="2.25" />
<line x1="749.8" y1="603.8" x2="749.8" y2="616.8" stroke="#000" stroke-width="2.25" />
<line x1="749.8" y1="4.2" x2="749.8" y2="16.2" stroke="#000" stroke-width="2.25" />
<text transform="translate(719.7 653.8) scale(1.05 1)" font-family='"Liberation Serif", "DejaVu Serif", serif' font-size="38" fill="#000">380</text>
<line x1="784" y1="603.8" x2="784" y2="610.5" stroke="#000" stroke-width="2.25" />
<line x1="784" y1="4.2" x2="784" y2="10.2" stroke="#000" stroke-width="2.25" />
<line x1="818.2" y1="603.8" x2="818.2" y2="616.8" stroke="#000" stroke-width="2.25" />
<line x1="818.2" y1="4.2" x2="818.2" y2="16.2" stroke="#000" stroke-width="2.25" />
<text transform="translate(788.4 653.8) scale(1.05 1)" font-family='"Liberation Serif", "DejaVu Serif", serif' font-size="38" fill="#000">382</text>
<line x1="852.4" y1="603.8" x2="852.4" y2="610.5" stroke="#000" stroke-width="2.25" />
<line x1="852.4" y1="4.2" x2="852.4" y2="10.2" stroke="#000" stroke-width="2.25" />
<line x1="886.6" y1="603.8" x2="886.6" y2="616.8" stroke="#000" stroke-width="2.25" />
<line x1="886.6" y1="4.2" x2="886.6" y2="16.2" stroke="#000" stroke-width="2.25" />
<text transform="translate(856.1 653.8) scale(1.05 1)" font-family='"Liberation Serif", "DejaVu Serif", serif' font-size="38" fill="#000">384</text>
<line x1="920.8" y1="603.8" x2="920.8" y2="610.5" stroke="#000" stroke-width="2.25" />
<line x1="920.8" y1="4.2" x2="920.8" y2="10.2" stroke="#000" stroke-width="2.25" />
<line x1="955" y1="603.8" x2="955" y2="616.8" stroke="#000" stroke-width="2.25" />
<line x1="955" y1="4.2" x2="955" y2="16.2" stroke="#000" stroke-width="2.25" />
<text transform="translate(924.8 653.8) scale(1.05 1)" font-family='"Liberation Serif", "DejaVu Serif", serif' font-size="38" fill="#000">386</text>
<line x1="127.6" y1="555.5" x2="134.1" y2="555.5" stroke="#000" stroke-width="2.25" />
<line x1="948.5" y1="555.5" x2="955" y2="555.5" stroke="#000" stroke-width="2.25" />
<line x1="121.6" y1="505.2" x2="134.1" y2="505.2" stroke="#000" stroke-width="2.25" />
<line x1="942.5" y1="505.2" x2="955" y2="505.2" stroke="#000" stroke-width="2.25" />
<text transform="translate(44.8 516.5) scale(1.05 1)" font-family='"Liberation Serif", "DejaVu Serif", serif' font-size="38" fill="#000">2.60</text>
<line x1="127.6" y1="455" x2="134.1" y2="455" stroke="#000" stroke-width="2.25" />
<line x1="948.5" y1="455" x2="955" y2="455" stroke="#000" stroke-width="2.25" />
<line x1="121.6" y1="404.7" x2="134.1" y2="404.7" stroke="#000" stroke-width="2.25" />
<line x1="942.5" y1="404.7" x2="955" y2="404.7" stroke="#000" stroke-width="2.25" />
<text transform="translate(44.9 416) scale(1.05 1)" font-family='"Liberation Serif", "DejaVu Serif", serif' font-size="38" fill="#000">2.65</text>
<line x1="127.6" y1="354.5" x2="134.1" y2="354.5" stroke="#000" stroke-width="2.25" />
<line x1="948.5" y1="354.5" x2="955" y2="354.5" stroke="#000" stroke-width="2.25" />
<line x1="121.6" y1="304.2" x2="134.1" y2="304.2" stroke="#000" stroke-width="2.25" />
<line x1="942.5" y1="304.2" x2="955" y2="304.2" stroke="#000" stroke-width="2.25" />
<text transform="translate(44.8 315.5) scale(1.05 1)" font-family='"Liberation Serif", "DejaVu Serif", serif' font-size="38" fill="#000">2.70</text>
<line x1="127.6" y1="254" x2="134.1" y2="254" stroke="#000" stroke-width="2.25" />
<line x1="948.5" y1="254" x2="955" y2="254" stroke="#000" stroke-width="2.25" />
<line x1="121.6" y1="203.7" x2="134.1" y2="203.7" stroke="#000" stroke-width="2.25" />
<line x1="942.5" y1="203.7" x2="955" y2="203.7" stroke="#000" stroke-width="2.25" />
<text transform="translate(44.9 215) scale(1.05 1)" font-family='"Liberation Serif", "DejaVu Serif", serif' font-size="38" fill="#000">2.75</text>
<line x1="127.6" y1="153.5" x2="134.1" y2="153.5" stroke="#000" stroke-width="2.25" />
<line x1="948.5" y1="153.5" x2="955" y2="153.5" stroke="#000" stroke-width="2.25" />
<line x1="121.6" y1="103.2" x2="134.1" y2="103.2" stroke="#000" stroke-width="2.25" />
<line x1="942.5" y1="103.2" x2="955" y2="103.2" stroke="#000" stroke-width="2.25" />
<text transform="translate(44.8 114.5) scale(1.05 1)" font-family='"Liberation Serif", "DejaVu Serif", serif' font-size="38" fill="#000">2.80</text>
<line x1="127.6" y1="52.9" x2="134.1" y2="52.9" stroke="#000" stroke-width="2.25" />
<line x1="948.5" y1="52.9" x2="955" y2="52.9" stroke="#000" stroke-width="2.25" />
<text transform="translate(0.4 41.4) scale(1.03 1)" font-family='"Liberation Serif", "DejaVu Serif", serif' font-size="40" fill="#000">|</text>
<text transform="translate(8.4 41.4) scale(1.03 1)" font-family='"Liberation Serif", "DejaVu Serif", serif' font-size="40" font-style="italic" fill="#000">Y</text>
<text transform="translate(30.3 41.4) scale(1.03 1)" font-family='"Liberation Serif", "DejaVu Serif", serif' font-size="40" fill="#000">|</text>
<text transform="translate(50.2 41.4) scale(1.03 1)" font-family='"Liberation Serif", "DejaVu Serif", serif' font-size="40" fill="#000">[μS]</text>
<text transform="translate(492 708.8) scale(1.06 1) skewX(-7)" font-family='"Liberation Serif", "DejaVu Serif", serif' font-size="42" font-style="italic" fill="#000">f</text>
<text transform="translate(520.7 708.8) scale(0.96 1)" font-family='"Liberation Serif", "DejaVu Serif", serif' font-size="42.5" fill="#000">[kHz]</text>
<text transform="translate(3.6 711.3)" font-family='"Liberation Serif", "DejaVu Serif", serif' font-size="47" fill="#000">a</text>
<text transform="translate(22.6 711)" font-family='"Liberation Serif", "DejaVu Serif", serif' font-size="34" fill="#000">)</text>
<text transform="translate(606.6 326.2) scale(1.08 1) skewX(-7)" font-family='"Liberation Serif", "DejaVu Serif", serif' font-size="41" font-style="italic" fill="#000">f</text>
<text transform="translate(623.6 336.6)" font-family='"Liberation Serif", "DejaVu Serif", serif' font-size="44" fill="#000">r</text>
<text transform="translate(671.6 474.4) scale(1.08 1) skewX(-7)" font-family='"Liberation Serif", "DejaVu Serif", serif' font-size="41" font-style="italic" fill="#000">f</text>
<text transform="translate(689.8 485.6)" font-family='"Liberation Serif", "DejaVu Serif", serif' font-size="44" fill="#000">a</text>
</g>
<g id="inset">
<rect x="198.5" y="53.2" width="360.5" height="264.2" fill="#fff" stroke="#222" stroke-width="1.6"/>
<line x1="197.5" y1="317.4" x2="197.5" y2="320.4" stroke="#222" stroke-width="1.6" />
<line x1="197.5" y1="53.2" x2="197.5" y2="56.2" stroke="#222" stroke-width="1.6" />
<line x1="233.7" y1="317.4" x2="233.7" y2="322.9" stroke="#222" stroke-width="1.6" />
<line x1="233.7" y1="53.2" x2="233.7" y2="58.7" stroke="#222" stroke-width="1.6" />
<text transform="translate(219.8 340.9)" font-family='"Liberation Serif", "DejaVu Serif", serif' font-size="18.8" fill="#111">360</text>
<line x1="269.9" y1="317.4" x2="269.9" y2="320.4" stroke="#222" stroke-width="1.6" />
<line x1="269.9" y1="53.2" x2="269.9" y2="56.2" stroke="#222" stroke-width="1.6" />
<line x1="306.1" y1="317.4" x2="306.1" y2="322.9" stroke="#222" stroke-width="1.6" />
<line x1="306.1" y1="53.2" x2="306.1" y2="58.7" stroke="#222" stroke-width="1.6" />
<text transform="translate(292.2 340.9)" font-family='"Liberation Serif", "DejaVu Serif", serif' font-size="18.8" fill="#111">370</text>
<line x1="342.3" y1="317.4" x2="342.3" y2="320.4" stroke="#222" stroke-width="1.6" />
<line x1="342.3" y1="53.2" x2="342.3" y2="56.2" stroke="#222" stroke-width="1.6" />
<line x1="378.5" y1="317.4" x2="378.5" y2="322.9" stroke="#222" stroke-width="1.6" />
<line x1="378.5" y1="53.2" x2="378.5" y2="58.7" stroke="#222" stroke-width="1.6" />
<text transform="translate(364.6 340.9)" font-family='"Liberation Serif", "DejaVu Serif", serif' font-size="18.8" fill="#111">380</text>
<line x1="414.7" y1="317.4" x2="414.7" y2="320.4" stroke="#222" stroke-width="1.6" />
<line x1="414.7" y1="53.2" x2="414.7" y2="56.2" stroke="#222" stroke-width="1.6" />
<line x1="450.9" y1="317.4" x2="450.9" y2="322.9" stroke="#222" stroke-width="1.6" />
<line x1="450.9" y1="53.2" x2="450.9" y2="58.7" stroke="#222" stroke-width="1.6" />
<text transform="translate(437 340.9)" font-family='"Liberation Serif", "DejaVu Serif", serif' font-size="18.8" fill="#111">390</text>
<line x1="487.1" y1="317.4" x2="487.1" y2="320.4" stroke="#222" stroke-width="1.6" />
<line x1="487.1" y1="53.2" x2="487.1" y2="56.2" stroke="#222" stroke-width="1.6" />
<line x1="523.3" y1="317.4" x2="523.3" y2="322.9" stroke="#222" stroke-width="1.6" />
<line x1="523.3" y1="53.2" x2="523.3" y2="58.7" stroke="#222" stroke-width="1.6" />
<text transform="translate(509.7 340.9)" font-family='"Liberation Serif", "DejaVu Serif", serif' font-size="18.8" fill="#111">400</text>
<line x1="559.5" y1="317.4" x2="559.5" y2="320.4" stroke="#222" stroke-width="1.6" />
<line x1="559.5" y1="53.2" x2="559.5" y2="56.2" stroke="#222" stroke-width="1.6" />
<line x1="195.5" y1="317" x2="198.5" y2="317" stroke="#222" stroke-width="1.6" />
<line x1="556" y1="317" x2="559" y2="317" stroke="#222" stroke-width="1.6" />
<line x1="193" y1="284" x2="198.5" y2="284" stroke="#222" stroke-width="1.6" />
<line x1="553.5" y1="284" x2="559" y2="284" stroke="#222" stroke-width="1.6" />
<text transform="translate(149 289.7)" font-family='"Liberation Serif", "DejaVu Serif", serif' font-size="17.8" fill="#111">1.545</text>
<line x1="195.5" y1="251" x2="198.5" y2="251" stroke="#222" stroke-width="1.6" />
<line x1="556" y1="251" x2="559" y2="251" stroke="#222" stroke-width="1.6" />
<line x1="193" y1="218" x2="198.5" y2="218" stroke="#222" stroke-width="1.6" />
<line x1="553.5" y1="218" x2="559" y2="218" stroke="#222" stroke-width="1.6" />
<text transform="translate(148.9 223.7)" font-family='"Liberation Serif", "DejaVu Serif", serif' font-size="17.8" fill="#111">1.550</text>
<line x1="195.5" y1="185" x2="198.5" y2="185" stroke="#222" stroke-width="1.6" />
<line x1="556" y1="185" x2="559" y2="185" stroke="#222" stroke-width="1.6" />
<line x1="193" y1="152" x2="198.5" y2="152" stroke="#222" stroke-width="1.6" />
<line x1="553.5" y1="152" x2="559" y2="152" stroke="#222" stroke-width="1.6" />
<text transform="translate(149 157.7)" font-family='"Liberation Serif", "DejaVu Serif", serif' font-size="17.8" fill="#111">1.555</text>
<line x1="195.5" y1="119" x2="198.5" y2="119" stroke="#222" stroke-width="1.6" />
<line x1="556" y1="119" x2="559" y2="119" stroke="#222" stroke-width="1.6" />
<line x1="193" y1="86" x2="198.5" y2="86" stroke="#222" stroke-width="1.6" />
<line x1="553.5" y1="86" x2="559" y2="86" stroke="#222" stroke-width="1.6" />
<text transform="translate(148.9 91.7)" font-family='"Liberation Serif", "DejaVu Serif", serif' font-size="17.8" fill="#111">1.560</text>
<line x1="195.5" y1="53" x2="198.5" y2="53" stroke="#222" stroke-width="1.6" />
<line x1="556" y1="53" x2="559" y2="53" stroke="#222" stroke-width="1.6" />
<path d="M233.5 81 L234.1 80.4 L234.7 80.3 L235.3 79.4 L235.9 80.2 L236.5 80.1 L237.1 80.3 L237.7 80.1 L238.3 80.4 L238.9 80.2 L239.5 79.8 L240.1 80.8 L240.7 80.9 L241.3 81.3 L241.9 80.5 L242.5 80.3 L243.1 80.3 L243.7 79.9 L244.3 81 L244.9 80.1 L245.5 80.1 L246.1 80.6 L246.7 81.3 L247.3 80.8 L247.9 80.3 L248.5 80.4 L249.1 81 L249.7 80.7 L250.3 80.5 L250.9 80.7 L251.5 81.2 L252.1 81.8 L252.7 80.3 L253.3 80.6 L253.9 80.6 L254.5 79.9 L255.1 80.6 L255.7 80.5 L256.3 81.5 L256.9 81 L257.5 80.3 L258.1 81.4 L258.7 80.9 L259.3 80.3 L259.9 80.9 L260.5 80.9 L261.1 80.8 L261.7 81.2 L262.3 80.2 L262.9 81.1 L263.5 81.7 L264.1 81.7 L264.7 81.8 L265.3 81.8 L265.9 82 L266.5 80.9 L267.1 81.8 L267.7 80.6 L268.3 81.2 L268.9 80.6 L269.5 82 L270.1 82.1 L270.7 81.4 L271.3 82.4 L271.9 81.3 L272.5 81.7 L273.1 81.7 L273.7 81.2 L274.3 81.9 L274.9 82.6 L275.5 81.3 L276.1 82.2 L276.7 81.8 L277.3 82.7 L277.9 82.2 L278.5 82.3 L279.1 82.3 L279.7 82.2 L280.3 81.5 L280.9 82.8 L281.5 81.6 L282.1 82.4 L282.7 82.6 L283.3 82 L283.9 82.5 L284.5 83 L285.1 82.6 L285.7 82.2 L286.3 81.4 L286.9 82.3 L287.5 82.6 L288.1 82.7 L288.7 82.5 L289.3 83.2 L289.9 82.8 L290.5 83.1 L291.1 83.5 L291.7 82.9 L292.3 83.2 L292.9 84.4 L293.5 83.9 L294.1 83 L294.7 83.6 L295.3 84 L295.9 84.4 L296.5 83.9 L297.1 83.7 L297.7 83.7 L298.3 84.4 L298.9 84.3 L299.5 84 L300.1 84.3 L300.7 84.2 L301.3 84.8 L301.9 84.3 L302.5 84.9 L303.1 85.1 L303.7 85.1 L304.3 84.5 L304.9 85.6 L305.5 84.8 L306.1 85.4 L306.7 84.9 L307.3 84.6 L307.9 85.6 L308.5 85.7 L309.1 85.6 L309.7 85.9 L310.3 85.6 L310.9 85.7 L311.5 86 L312.1 87.1 L312.7 86.7 L313.3 86.3 L313.9 86.9 L314.5 86.5 L315.1 86.7 L315.7 87.4 L316.3 86.9 L316.9 86.6 L317.5 87.1 L318.1 87.7 L318.7 87.9 L319.3 88.6 L319.9 87.9 L320.5 88.8 L321.1 88.8 L321.7 88.8 L322.3 89.5 L322.9 89.6 L323.5 89.2 L324.1 90.3 L324.7 89.6 L325.3 90.4 L325.9 90.7 L326.5 91.2 L327.1 91 L327.7 91.6 L328.3 91.9 L328.9 92.7 L329.5 92.2 L330.1 93 L330.7 93.3 L331.3 93.2 L331.9 95.4 L332.5 94.7 L333.1 94.5 L333.7 96.4 L334.3 95.8 L334.9 97.1 L335.5 97.9 L336.1 97.9 L336.7 98.7 L337.3 99.4 L337.9 100.5 L338.5 101.5 L339.1 102.5 L339.7 103.7 L340.3 104.9 L340.9 106.2 L341.5 107.6 L342.1 109.2 L342.7 110.9 L343.3 112.9 L343.9 115.1 L344.5 117.5 L345.1 120 L345.7 123 L346.3 126.3 L346.9 130.1 L347.5 134.5 L348.1 139.8 L348.7 146.1 L349.3 153.2 L349.9 160.6 L350.5 168.5 L351.1 177 L351.7 186.1 L352.3 195.9 L352.9 206.4 L353.5 217.8 L354.1 230 L354.7 242.7 L355.3 255.8 L355.9 269.9 L356.5 284 L357.1 297.3 L357.7 294.4 L358.3 285.3 L358.9 276.1 L359.5 266.3 L360.1 255.7 L360.7 245 L361.3 235.1 L361.9 225.9 L362.5 217 L363.1 208.2 L363.7 199.3 L364.3 190.3 L364.9 181.3 L365.5 172.4 L366.1 163.4 L366.7 154.2 L367.3 144.7 L367.9 135.4 L368.5 127.1 L369.1 119.9 L369.7 113.3 L370.3 107.3 L370.9 102.1 L371.5 97.5 L372.1 93.2 L372.7 89.4 L373.3 86.3 L373.9 84 L374.5 82.1 L375.1 80.3 L375.7 78.8 L376.3 77.5 L376.9 76 L377.5 75.8 L378.1 76.5 L378.7 75.4 L379.3 74.8 L379.9 74.6 L380.5 74.6 L381.1 73.7 L381.7 74.1 L382.3 73.4 L382.9 72.9 L383.5 73.5 L384.1 71.6 L384.7 72.4 L385.3 72.7 L385.9 72.1 L386.5 72.5 L387.1 72.2 L387.7 72.2 L388.3 73.6 L388.9 72.7 L389.5 72.4 L390.1 72.9 L390.7 72.2 L391.3 72.7 L391.9 72.5 L392.5 73 L393.1 71.6 L393.7 72.6 L394.3 72.3 L394.9 71.7 L395.5 72.7 L396.1 71.8 L396.7 72.9 L397.3 72.4 L397.9 72.5 L398.5 72.2 L399.1 72.6 L399.7 71.4 L400.3 72.2 L400.9 71.9 L401.5 72.3 L402.1 72.2 L402.7 72.5 L403.3 71.9 L403.9 73.1 L404.5 73.3 L405.1 72.2 L405.7 72.3 L406.3 72.5 L406.9 72.9 L407.5 73.2 L408.1 71.8 L408.7 72.1 L409.3 72 L409.9 72 L410.5 71.7 L411.1 72.7 L411.7 72 L412.3 73.2 L412.9 73 L413.5 72.1 L414.1 72.1 L414.7 72.4 L415.3 73.3 L415.9 72.3 L416.5 72 L417.1 72.7 L417.7 72.9 L418.3 72.5 L418.9 73.5 L419.5 72.9 L420.1 73 L420.7 72.4 L421.3 72.8 L421.9 72.8 L422.5 71.8 L423.1 73 L423.7 72.1 L424.3 72.9 L424.9 72.2 L425.5 73.8 L426.1 73.1 L426.7 73.3 L427.3 73.4 L427.9 72.4 L428.5 71.9 L429.1 72.8 L429.7 73.4 L430.3 73 L430.9 73.4 L431.5 73.4 L432.1 72.4 L432.7 73.2 L433.3 73.9 L433.9 72.8 L434.5 72.2 L435.1 73 L435.7 72.9 L436.3 73.3 L436.9 72.8 L437.5 73.2 L438.1 72.2 L438.7 73.6 L439.3 74 L439.9 73.9 L440.5 72.7 L441.1 73.5 L441.7 72.2 L442.3 74 L442.9 75.3 L443.5 75.8 L444.1 76.4 L444.7 76.4 L445.3 76.8 L445.9 76.5 L446.5 76.6 L447.1 75.6 L447.7 76 L448.3 76.3 L448.9 76.7 L449.5 76.6 L450.1 77.3 L450.7 76.2 L451.3 76.5 L451.9 76.8 L452.5 76.5 L453.1 76.9 L453.7 76.4 L454.3 77.3 L454.9 76.5 L455.5 77.2 L456.1 76.7 L456.7 77.4 L457.3 76.1 L457.9 76.9 L458.5 76.5 L459.1 76.8 L459.7 77.2 L460.3 76.2 L460.9 76.1 L461.5 76.2 L462.1 76.8 L462.7 75.8 L463.3 76.7 L463.9 75.9 L464.5 75.5 L465.1 75.3 L465.7 74.9 L466.3 74 L466.9 74 L467.5 74.2 L468.1 74.1 L468.7 73 L469.3 74 L469.9 74.2 L470.5 74.7 L471.1 75.1 L471.7 74.5 L472.3 74.2 L472.9 73.8 L473.5 74.2 L474.1 74.6 L474.7 74.8 L475.3 73.8 L475.9 74.3 L476.5 74.6 L477.1 75 L477.7 74.3 L478.3 74 L478.9 73.9 L479.5 74 L480.1 73.9 L480.7 74.6 L481.3 74.7 L481.9 74.5 L482.5 74.7 L483.1 74 L483.7 74.4 L484.3 74 L484.9 74.2 L485.5 74.8 L486.1 74.2 L486.7 73.4 L487.3 74.1 L487.9 73.9 L488.5 73.5 L489.1 73.8 L489.7 74.6 L490.3 75 L490.9 74 L491.5 74.7 L492.1 74.7 L492.7 73.7 L493.3 74.2 L493.9 74.2 L494.5 74.3 L495.1 73.5 L495.7 74 L496.3 74.7 L496.9 74.8 L497.5 75 L498.1 74 L498.7 75 L499.3 74.5 L499.9 73.6 L500.5 74.5 L501.1 74 L501.7 74.4 L502.3 74.2 L502.9 74.8 L503.5 74.3 L504.1 74.1 L504.7 74.7 L505.3 74.3 L505.9 74 L506.5 74.8 L507.1 74.1 L507.7 74 L508.3 74 L508.9 73.6 L509.5 74 L510.1 75.1 L510.7 73.9 L511.3 74.3 L511.9 73.8 L512.5 74 L513.1 75 L513.7 74.7 L514.3 74.1 L514.9 74.3 L515.5 74 L516.1 74 L516.7 74 L517.3 74 L517.9 74.5 L518.5 74.7 L519.1 74.6 L519.7 74.4 L520.3 73.8 L520.9 74.4 L521.5 74.1 L522.1 74.9 L522.7 74.7" fill="none" stroke="#0000ff" stroke-width="4.6" stroke-linejoin="round" stroke-linecap="round"/>
<text transform="translate(150.5 41)" font-family='"Liberation Serif", "DejaVu Serif", serif' font-size="24" fill="#111">θ [rad]</text>
<text transform="translate(348.4 372) scale(1.06 1) skewX(-7)" font-family='"Liberation Serif", "DejaVu Serif", serif' font-size="24" font-style="italic" fill="#111">f</text>
<text transform="translate(362.6 371.9)" font-family='"Liberation Serif", "DejaVu Serif", serif' font-size="24.3" fill="#111">[kHz]</text>
</g>
<g id="panel-b">
<defs><clipPath id="clipb"><rect x="1141.6" y="25.7" width="837.2" height="580.1"/></clipPath></defs>
<g fill="#000" clip-path="url(#clipb)"><circle cx="1147.6" cy="516.1" r="4"/><circle cx="1150.4" cy="516.1" r="4"/><circle cx="1153.1" cy="516.1" r="4"/><circle cx="1155.9" cy="512.2" r="4"/><circle cx="1158.7" cy="512.2" r="4"/><circle cx="1161.4" cy="512.2" r="4"/><circle cx="1164.2" cy="508.3" r="4"/><circle cx="1167" cy="508.3" r="4"/><circle cx="1169.7" cy="508.3" r="4"/><circle cx="1172.5" cy="504.4" r="4"/><circle cx="1175.3" cy="504.4" r="4"/><circle cx="1178" cy="504.4" r="4"/><circle cx="1180.8" cy="500.5" r="4"/><circle cx="1183.5" cy="500.5" r="4"/><circle cx="1186.3" cy="500.5" r="4"/><circle cx="1189.1" cy="496.7" r="4"/><circle cx="1191.8" cy="496.7" r="4"/><circle cx="1194.6" cy="496.7" r="4"/><circle cx="1197.4" cy="492.8" r="4"/><circle cx="1200.1" cy="492.8" r="4"/><circle cx="1202.9" cy="492.8" r="4"/><circle cx="1205.7" cy="492.8" r="4"/><circle cx="1208.4" cy="488.9" r="4"/><circle cx="1211.2" cy="488.9" r="4"/><circle cx="1214" cy="488.9" r="4"/><circle cx="1216.7" cy="485" r="4"/><circle cx="1219.5" cy="485" r="4"/><circle cx="1222.3" cy="485" r="4"/><circle cx="1225" cy="481.1" r="4"/><circle cx="1227.8" cy="481.1" r="4"/><circle cx="1230.6" cy="481.1" r="4"/><circle cx="1233.3" cy="477.2" r="4"/><circle cx="1236.1" cy="477.2" r="4"/><circle cx="1238.9" cy="477.2" r="4"/><circle cx="1241.6" cy="473.3" r="4"/><circle cx="1244.4" cy="473.3" r="4"/><circle cx="1247.1" cy="473.3" r="4"/><circle cx="1249.9" cy="469.4" r="4"/><circle cx="1252.7" cy="469.4" r="4"/><circle cx="1255.4" cy="469.4" r="4"/><circle cx="1258.2" cy="465.5" r="4"/><circle cx="1261" cy="465.5" r="4"/><circle cx="1263.7" cy="465.5" r="4"/><circle cx="1266.5" cy="461.6" r="4"/><circle cx="1269.3" cy="461.6" r="4"/><circle cx="1272" cy="461.6" r="4"/><circle cx="1274.8" cy="457.7" r="4"/><circle cx="1277.6" cy="457.7" r="4"/><circle cx="1280.3" cy="457.7" r="4"/><circle cx="1283.1" cy="453.8" r="4"/><circle cx="1285.9" cy="453.8" r="4"/><circle cx="1288.6" cy="453.8" r="4"/><circle cx="1291.4" cy="449.9" r="4"/><circle cx="1294.2" cy="449.9" r="4"/><circle cx="1296.9" cy="449.9" r="4"/><circle cx="1299.7" cy="446" r="4"/><circle cx="1302.5" cy="446" r="4"/><circle cx="1305.2" cy="446" r="4"/><circle cx="1308" cy="442.1" r="4"/><circle cx="1310.7" cy="442.1" r="4"/><circle cx="1313.5" cy="442.1" r="4"/><circle cx="1316.3" cy="438.2" r="4"/><circle cx="1319" cy="438.2" r="4"/><circle cx="1321.8" cy="438.2" r="4"/><circle cx="1324.6" cy="434.3" r="4"/><circle cx="1327.3" cy="434.3" r="4"/><circle cx="1330.1" cy="430.4" r="4"/><circle cx="1332.9" cy="430.4" r="4"/><circle cx="1335.6" cy="430.4" r="4"/><circle cx="1338.4" cy="426.5" r="4"/><circle cx="1341.2" cy="426.5" r="4"/><circle cx="1343.9" cy="422.6" r="4"/><circle cx="1346.7" cy="422.6" r="4"/><circle cx="1349.5" cy="422.6" r="4"/><circle cx="1352.2" cy="418.7" r="4"/><circle cx="1355" cy="418.7" r="4"/><circle cx="1357.8" cy="418.7" r="4"/><circle cx="1360.5" cy="414.8" r="4"/><circle cx="1363.3" cy="414.8" r="4"/><circle cx="1366.1" cy="414.8" r="4"/><circle cx="1368.8" cy="410.9" r="4"/><circle cx="1371.6" cy="410.9" r="4"/><circle cx="1374.3" cy="407" r="4"/><circle cx="1377.1" cy="407" r="4"/><circle cx="1379.9" cy="407" r="4"/><circle cx="1382.6" cy="403.1" r="4"/><circle cx="1385.4" cy="403.1" r="4"/><circle cx="1388.2" cy="399.3" r="4"/><circle cx="1390.9" cy="399.3" r="4"/><circle cx="1393.7" cy="399.3" r="4"/><circle cx="1396.5" cy="395.4" r="4"/><circle cx="1399.2" cy="395.4" r="4"/><circle cx="1402" cy="391.5" r="4"/><circle cx="1404.8" cy="391.5" r="4"/><circle cx="1407.5" cy="391.5" r="4"/><circle cx="1410.3" cy="387.6" r="4"/><circle cx="1413.1" cy="387.6" r="4"/><circle cx="1415.8" cy="383.7" r="4"/><circle cx="1418.6" cy="383.7" r="4"/><circle cx="1421.4" cy="383.7" r="4"/><circle cx="1424.1" cy="379.8" r="4"/><circle cx="1426.9" cy="379.8" r="4"/><circle cx="1429.7" cy="375.9" r="4"/><circle cx="1432.4" cy="375.9" r="4"/><circle cx="1435.2" cy="375.9" r="4"/><circle cx="1437.9" cy="372" r="4"/><circle cx="1440.7" cy="372" r="4"/><circle cx="1443.5" cy="368.1" r="4"/><circle cx="1446.2" cy="368.1" r="4"/><circle cx="1449" cy="368.1" r="4"/><circle cx="1451.8" cy="364.2" r="4"/><circle cx="1454.5" cy="364.2" r="4"/><circle cx="1457.3" cy="360.3" r="4"/><circle cx="1460.1" cy="360.3" r="4"/><circle cx="1462.8" cy="356.4" r="4"/><circle cx="1465.6" cy="352.5" r="4"/><circle cx="1468.4" cy="352.5" r="4"/><circle cx="1471.1" cy="348.6" r="4"/><circle cx="1473.9" cy="348.6" r="4"/><circle cx="1476.7" cy="344.7" r="4"/><circle cx="1479.4" cy="344.7" r="4"/><circle cx="1482.2" cy="340.8" r="4"/><circle cx="1485" cy="340.8" r="4"/><circle cx="1487.7" cy="336.9" r="4"/><circle cx="1490.5" cy="336.9" r="4"/><circle cx="1493.2" cy="333" r="4"/><circle cx="1496" cy="333" r="4"/><circle cx="1498.8" cy="329.1" r="4"/><circle cx="1501.5" cy="329.1" r="4"/><circle cx="1504.3" cy="325.2" r="4"/><circle cx="1507.1" cy="325.2" r="4"/><circle cx="1509.8" cy="321.3" r="4"/><circle cx="1512.6" cy="321.3" r="4"/><circle cx="1515.4" cy="317.4" r="4"/><circle cx="1518.1" cy="313.5" r="4"/><circle cx="1520.9" cy="313.5" r="4"/><circle cx="1523.7" cy="309.6" r="4"/><circle cx="1526.4" cy="309.6" r="4"/><circle cx="1529.2" cy="305.7" r="4"/><circle cx="1532" cy="305.7" r="4"/><circle cx="1534.7" cy="301.9" r="4"/><circle cx="1537.5" cy="301.9" r="4"/><circle cx="1540.3" cy="298" r="4"/><circle cx="1543" cy="298" r="4"/><circle cx="1545.8" cy="294.1" r="4"/><circle cx="1548.6" cy="294.1" r="4"/><circle cx="1551.3" cy="290.2" r="4"/><circle cx="1554.1" cy="290.2" r="4"/><circle cx="1556.8" cy="290.2" r="4"/><circle cx="1559.6" cy="290.2" r="4"/><circle cx="1562.4" cy="290.2" r="4"/><circle cx="1565.1" cy="290.2" r="4"/><circle cx="1567.9" cy="290.2" r="4"/><circle cx="1570.7" cy="290.2" r="4"/><circle cx="1573.4" cy="294.1" r="4"/><circle cx="1576.2" cy="298" r="4"/><circle cx="1579" cy="298" r="4"/><circle cx="1581.7" cy="301.9" r="4"/><circle cx="1584.5" cy="305.7" r="4"/><circle cx="1587.3" cy="309.6" r="4"/><circle cx="1590" cy="313.5" r="4"/><circle cx="1592.8" cy="321.3" r="4"/><circle cx="1595.6" cy="329.1" r="4"/><circle cx="1598.3" cy="336.9" r="4"/><circle cx="1601.1" cy="340.8" r="4"/><circle cx="1603.9" cy="344.7" r="4"/><circle cx="1606.6" cy="348.6" r="4"/><circle cx="1609.4" cy="356.4" r="4"/><circle cx="1612.2" cy="364.2" r="4"/><circle cx="1614.9" cy="368.1" r="4"/><circle cx="1617.7" cy="375.9" r="4"/><circle cx="1620.4" cy="379.8" r="4"/><circle cx="1623.2" cy="387.6" r="4"/><circle cx="1626" cy="391.5" r="4"/><circle cx="1628.7" cy="399.3" r="4"/><circle cx="1631.5" cy="403.1" r="4"/><circle cx="1634.3" cy="407" r="4"/><circle cx="1637" cy="410.9" r="4"/><circle cx="1639.8" cy="410.9" r="4"/><circle cx="1642.6" cy="414.8" r="4"/><circle cx="1645.3" cy="418.7" r="4"/><circle cx="1648.1" cy="418.7" r="4"/><circle cx="1650.9" cy="422.6" r="4"/><circle cx="1653.6" cy="426.5" r="4"/><circle cx="1656.4" cy="426.5" r="4"/><circle cx="1659.2" cy="426.5" r="4"/><circle cx="1661.9" cy="430.4" r="4"/><circle cx="1664.7" cy="430.4" r="4"/><circle cx="1667.5" cy="434.3" r="4"/><circle cx="1670.2" cy="434.3" r="4"/><circle cx="1673" cy="434.3" r="4"/><circle cx="1675.8" cy="434.3" r="4"/><circle cx="1678.5" cy="438.2" r="4"/><circle cx="1681.3" cy="438.2" r="4"/><circle cx="1684" cy="438.2" r="4"/><circle cx="1686.8" cy="438.2" r="4"/><circle cx="1689.6" cy="438.2" r="4"/><circle cx="1692.3" cy="438.2" r="4"/><circle cx="1695.1" cy="438.2" r="4"/><circle cx="1697.9" cy="438.2" r="4"/><circle cx="1700.6" cy="438.2" r="4"/><circle cx="1703.4" cy="438.2" r="4"/><circle cx="1706.2" cy="434.3" r="4"/><circle cx="1708.9" cy="434.3" r="4"/><circle cx="1711.7" cy="430.4" r="4"/><circle cx="1714.5" cy="430.4" r="4"/><circle cx="1717.2" cy="426.5" r="4"/><circle cx="1720" cy="426.5" r="4"/><circle cx="1722.8" cy="422.6" r="4"/><circle cx="1725.5" cy="422.6" r="4"/><circle cx="1728.3" cy="418.7" r="4"/><circle cx="1731.1" cy="414.8" r="4"/><circle cx="1733.8" cy="410.9" r="4"/><circle cx="1736.6" cy="410.9" r="4"/><circle cx="1739.4" cy="407" r="4"/><circle cx="1742.1" cy="407" r="4"/><circle cx="1744.9" cy="403.1" r="4"/><circle cx="1747.6" cy="403.1" r="4"/><circle cx="1750.4" cy="395.4" r="4"/><circle cx="1753.2" cy="395.4" r="4"/><circle cx="1755.9" cy="391.5" r="4"/><circle cx="1758.7" cy="387.6" r="4"/><circle cx="1761.5" cy="383.7" r="4"/><circle cx="1764.2" cy="383.7" r="4"/><circle cx="1767" cy="379.8" r="4"/><circle cx="1769.8" cy="379.8" r="4"/><circle cx="1772.5" cy="375.9" r="4"/><circle cx="1775.3" cy="372" r="4"/><circle cx="1778.1" cy="372" r="4"/><circle cx="1780.8" cy="368.1" r="4"/><circle cx="1783.6" cy="364.2" r="4"/><circle cx="1786.4" cy="360.3" r="4"/><circle cx="1789.1" cy="360.3" r="4"/><circle cx="1791.9" cy="356.4" r="4"/><circle cx="1794.7" cy="352.5" r="4"/><circle cx="1797.4" cy="352.5" r="4"/><circle cx="1800.2" cy="348.6" r="4"/><circle cx="1803" cy="348.6" r="4"/><circle cx="1805.7" cy="344.7" r="4"/><circle cx="1808.5" cy="344.7" r="4"/><circle cx="1811.2" cy="340.8" r="4"/><circle cx="1814" cy="340.8" r="4"/><circle cx="1816.8" cy="336.9" r="4"/><circle cx="1819.5" cy="336.9" r="4"/><circle cx="1822.3" cy="333" r="4"/><circle cx="1825.1" cy="333" r="4"/><circle cx="1827.8" cy="329.1" r="4"/><circle cx="1830.6" cy="329.1" r="4"/><circle cx="1833.4" cy="325.2" r="4"/><circle cx="1836.1" cy="325.2" r="4"/><circle cx="1838.9" cy="321.3" r="4"/><circle cx="1841.7" cy="321.3" r="4"/><circle cx="1844.4" cy="317.4" r="4"/><circle cx="1847.2" cy="317.4" r="4"/><circle cx="1850" cy="313.5" r="4"/><circle cx="1852.7" cy="313.5" r="4"/><circle cx="1855.5" cy="309.6" r="4"/><circle cx="1858.3" cy="309.6" r="4"/><circle cx="1861" cy="305.7" r="4"/><circle cx="1863.8" cy="305.7" r="4"/><circle cx="1866.6" cy="301.9" r="4"/><circle cx="1869.3" cy="301.9" r="4"/><circle cx="1872.1" cy="301.9" r="4"/><circle cx="1874.8" cy="298" r="4"/><circle cx="1877.6" cy="298" r="4"/><circle cx="1880.4" cy="294.1" r="4"/><circle cx="1883.1" cy="294.1" r="4"/><circle cx="1885.9" cy="290.2" r="4"/><circle cx="1888.7" cy="290.2" r="4"/><circle cx="1891.4" cy="290.2" r="4"/><circle cx="1894.2" cy="286.3" r="4"/><circle cx="1897" cy="286.3" r="4"/><circle cx="1899.7" cy="286.3" r="4"/><circle cx="1902.5" cy="282.4" r="4"/><circle cx="1905.3" cy="282.4" r="4"/><circle cx="1908" cy="278.5" r="4"/><circle cx="1910.8" cy="278.5" r="4"/><circle cx="1913.6" cy="278.5" r="4"/><circle cx="1916.3" cy="274.6" r="4"/><circle cx="1919.1" cy="274.6" r="4"/><circle cx="1921.9" cy="274.6" r="4"/><circle cx="1924.6" cy="270.7" r="4"/><circle cx="1927.4" cy="270.7" r="4"/><circle cx="1930.2" cy="266.8" r="4"/><circle cx="1932.9" cy="266.8" r="4"/><circle cx="1935.7" cy="266.8" r="4"/><circle cx="1938.4" cy="262.9" r="4"/><circle cx="1941.2" cy="262.9" r="4"/><circle cx="1944" cy="262.9" r="4"/><circle cx="1946.7" cy="259" r="4"/><circle cx="1949.5" cy="259" r="4"/><circle cx="1952.3" cy="259" r="4"/><circle cx="1955" cy="255.1" r="4"/><circle cx="1957.8" cy="255.1" r="4"/><circle cx="1960.6" cy="255.1" r="4"/><circle cx="1963.3" cy="251.2" r="4"/><circle cx="1966.1" cy="251.2" r="4"/><circle cx="1968.9" cy="251.2" r="4"/><circle cx="1971.6" cy="247.3" r="4"/><circle cx="1974.4" cy="247.3" r="4"/><circle cx="1977.2" cy="247.3" r="4"/></g>
<g fill="#ff0000" clip-path="url(#clipb)"><circle cx="1147.6" cy="457.7" r="4"/><circle cx="1150.4" cy="457.7" r="4"/><circle cx="1153.1" cy="453.8" r="4"/><circle cx="1155.9" cy="453.8" r="4"/><circle cx="1158.7" cy="453.8" r="4"/><circle cx="1161.4" cy="449.9" r="4"/><circle cx="1164.2" cy="449.9" r="4"/><circle cx="1167" cy="446" r="4"/><circle cx="1169.7" cy="446" r="4"/><circle cx="1172.5" cy="446" r="4"/><circle cx="1175.3" cy="442.1" r="4"/><circle cx="1178" cy="442.1" r="4"/><circle cx="1180.8" cy="438.2" r="4"/><circle cx="1183.5" cy="438.2" r="4"/><circle cx="1186.3" cy="438.2" r="4"/><circle cx="1189.1" cy="434.3" r="4"/><circle cx="1191.8" cy="434.3" r="4"/><circle cx="1194.6" cy="430.4" r="4"/><circle cx="1197.4" cy="430.4" r="4"/><circle cx="1200.1" cy="430.4" r="4"/><circle cx="1202.9" cy="426.5" r="4"/><circle cx="1205.7" cy="426.5" r="4"/><circle cx="1208.4" cy="426.5" r="4"/><circle cx="1211.2" cy="422.6" r="4"/><circle cx="1214" cy="422.6" r="4"/><circle cx="1216.7" cy="422.6" r="4"/><circle cx="1219.5" cy="418.7" r="4"/><circle cx="1222.3" cy="418.7" r="4"/><circle cx="1225" cy="418.7" r="4"/><circle cx="1227.8" cy="414.8" r="4"/><circle cx="1230.6" cy="414.8" r="4"/><circle cx="1233.3" cy="410.9" r="4"/><circle cx="1236.1" cy="410.9" r="4"/><circle cx="1238.9" cy="410.9" r="4"/><circle cx="1241.6" cy="407" r="4"/><circle cx="1244.4" cy="407" r="4"/><circle cx="1247.1" cy="407" r="4"/><circle cx="1249.9" cy="403.1" r="4"/><circle cx="1252.7" cy="403.1" r="4"/><circle cx="1255.4" cy="399.3" r="4"/><circle cx="1258.2" cy="399.3" r="4"/><circle cx="1261" cy="399.3" r="4"/><circle cx="1263.7" cy="395.4" r="4"/><circle cx="1266.5" cy="395.4" r="4"/><circle cx="1269.3" cy="395.4" r="4"/><circle cx="1272" cy="391.5" r="4"/><circle cx="1274.8" cy="391.5" r="4"/><circle cx="1277.6" cy="391.5" r="4"/><circle cx="1280.3" cy="387.6" r="4"/><circle cx="1283.1" cy="387.6" r="4"/><circle cx="1285.9" cy="387.6" r="4"/><circle cx="1288.6" cy="383.7" r="4"/><circle cx="1291.4" cy="383.7" r="4"/><circle cx="1294.2" cy="383.7" r="4"/><circle cx="1296.9" cy="379.8" r="4"/><circle cx="1299.7" cy="379.8" r="4"/><circle cx="1302.5" cy="379.8" r="4"/><circle cx="1305.2" cy="375.9" r="4"/><circle cx="1308" cy="375.9" r="4"/><circle cx="1310.7" cy="375.9" r="4"/><circle cx="1313.5" cy="372" r="4"/><circle cx="1316.3" cy="372" r="4"/><circle cx="1319" cy="368.1" r="4"/><circle cx="1321.8" cy="368.1" r="4"/><circle cx="1324.6" cy="368.1" r="4"/><circle cx="1327.3" cy="364.2" r="4"/><circle cx="1330.1" cy="364.2" r="4"/><circle cx="1332.9" cy="360.3" r="4"/><circle cx="1335.6" cy="360.3" r="4"/><circle cx="1338.4" cy="360.3" r="4"/><circle cx="1341.2" cy="356.4" r="4"/><circle cx="1343.9" cy="356.4" r="4"/><circle cx="1346.7" cy="352.5" r="4"/><circle cx="1349.5" cy="352.5" r="4"/><circle cx="1352.2" cy="348.6" r="4"/><circle cx="1355" cy="348.6" r="4"/><circle cx="1357.8" cy="348.6" r="4"/><circle cx="1360.5" cy="344.7" r="4"/><circle cx="1363.3" cy="344.7" r="4"/><circle cx="1366.1" cy="340.8" r="4"/><circle cx="1368.8" cy="340.8" r="4"/><circle cx="1371.6" cy="336.9" r="4"/><circle cx="1374.3" cy="336.9" r="4"/><circle cx="1377.1" cy="333" r="4"/><circle cx="1379.9" cy="333" r="4"/><circle cx="1382.6" cy="329.1" r="4"/><circle cx="1385.4" cy="329.1" r="4"/><circle cx="1388.2" cy="325.2" r="4"/><circle cx="1390.9" cy="325.2" r="4"/><circle cx="1393.7" cy="321.3" r="4"/><circle cx="1396.5" cy="321.3" r="4"/><circle cx="1399.2" cy="317.4" r="4"/><circle cx="1402" cy="313.5" r="4"/><circle cx="1404.8" cy="313.5" r="4"/><circle cx="1407.5" cy="309.6" r="4"/><circle cx="1410.3" cy="309.6" r="4"/><circle cx="1413.1" cy="305.7" r="4"/><circle cx="1415.8" cy="305.7" r="4"/><circle cx="1418.6" cy="301.9" r="4"/><circle cx="1421.4" cy="301.9" r="4"/><circle cx="1424.1" cy="298" r="4"/><circle cx="1426.9" cy="298" r="4"/><circle cx="1429.7" cy="294.1" r="4"/><circle cx="1432.4" cy="290.2" r="4"/><circle cx="1435.2" cy="290.2" r="4"/><circle cx="1437.9" cy="286.3" r="4"/><circle cx="1440.7" cy="286.3" r="4"/><circle cx="1443.5" cy="282.4" r="4"/><circle cx="1446.2" cy="278.5" r="4"/><circle cx="1449" cy="274.6" r="4"/><circle cx="1451.8" cy="274.6" r="4"/><circle cx="1454.5" cy="270.7" r="4"/><circle cx="1457.3" cy="266.8" r="4"/><circle cx="1460.1" cy="266.8" r="4"/><circle cx="1462.8" cy="262.9" r="4"/><circle cx="1465.6" cy="262.9" r="4"/><circle cx="1468.4" cy="259" r="4"/><circle cx="1471.1" cy="259" r="4"/><circle cx="1473.9" cy="255.1" r="4"/><circle cx="1476.7" cy="255.1" r="4"/><circle cx="1479.4" cy="251.2" r="4"/><circle cx="1482.2" cy="251.2" r="4"/><circle cx="1485" cy="247.3" r="4"/><circle cx="1487.7" cy="247.3" r="4"/><circle cx="1490.5" cy="247.3" r="4"/><circle cx="1493.2" cy="247.3" r="4"/><circle cx="1496" cy="247.3" r="4"/><circle cx="1498.8" cy="247.3" r="4"/><circle cx="1501.5" cy="247.3" r="4"/><circle cx="1504.3" cy="247.3" r="4"/><circle cx="1507.1" cy="247.3" r="4"/><circle cx="1509.8" cy="251.2" r="4"/><circle cx="1512.6" cy="255.1" r="4"/><circle cx="1515.4" cy="255.1" r="4"/><circle cx="1518.1" cy="259" r="4"/><circle cx="1520.9" cy="262.9" r="4"/><circle cx="1523.7" cy="270.7" r="4"/><circle cx="1526.4" cy="274.6" r="4"/><circle cx="1529.2" cy="282.4" r="4"/><circle cx="1532" cy="290.2" r="4"/><circle cx="1534.7" cy="298" r="4"/><circle cx="1537.5" cy="305.7" r="4"/><circle cx="1540.3" cy="313.5" r="4"/><circle cx="1543" cy="321.3" r="4"/><circle cx="1545.8" cy="329.1" r="4"/><circle cx="1548.6" cy="336.9" r="4"/><circle cx="1551.3" cy="344.7" r="4"/><circle cx="1554.1" cy="352.5" r="4"/><circle cx="1556.8" cy="360.3" r="4"/><circle cx="1559.6" cy="368.1" r="4"/><circle cx="1562.4" cy="372" r="4"/><circle cx="1565.1" cy="379.8" r="4"/><circle cx="1567.9" cy="387.6" r="4"/><circle cx="1570.7" cy="391.5" r="4"/><circle cx="1573.4" cy="395.4" r="4"/><circle cx="1576.2" cy="399.3" r="4"/><circle cx="1579" cy="403.1" r="4"/><circle cx="1581.7" cy="407" r="4"/><circle cx="1584.5" cy="410.9" r="4"/><circle cx="1587.3" cy="414.8" r="4"/><circle cx="1590" cy="414.8" r="4"/><circle cx="1592.8" cy="418.7" r="4"/><circle cx="1595.6" cy="418.7" r="4"/><circle cx="1598.3" cy="422.6" r="4"/><circle cx="1601.1" cy="422.6" r="4"/><circle cx="1603.9" cy="422.6" r="4"/><circle cx="1606.6" cy="426.5" r="4"/><circle cx="1609.4" cy="426.5" r="4"/><circle cx="1612.2" cy="426.5" r="4"/><circle cx="1614.9" cy="426.5" r="4"/><circle cx="1617.7" cy="426.5" r="4"/><circle cx="1620.4" cy="426.5" r="4"/><circle cx="1623.2" cy="426.5" r="4"/><circle cx="1626" cy="426.5" r="4"/><circle cx="1628.7" cy="426.5" r="4"/><circle cx="1631.5" cy="426.5" r="4"/><circle cx="1634.3" cy="426.5" r="4"/><circle cx="1637" cy="422.6" r="4"/><circle cx="1639.8" cy="418.7" r="4"/><circle cx="1642.6" cy="418.7" r="4"/><circle cx="1645.3" cy="418.7" r="4"/><circle cx="1648.1" cy="414.8" r="4"/><circle cx="1650.9" cy="414.8" r="4"/><circle cx="1653.6" cy="410.9" r="4"/><circle cx="1656.4" cy="410.9" r="4"/><circle cx="1659.2" cy="407" r="4"/><circle cx="1661.9" cy="407" r="4"/><circle cx="1664.7" cy="403.1" r="4"/><circle cx="1667.5" cy="399.3" r="4"/><circle cx="1670.2" cy="395.4" r="4"/><circle cx="1673" cy="395.4" r="4"/><circle cx="1675.8" cy="391.5" r="4"/><circle cx="1678.5" cy="387.6" r="4"/><circle cx="1681.3" cy="383.7" r="4"/><circle cx="1684" cy="379.8" r="4"/><circle cx="1686.8" cy="379.8" r="4"/><circle cx="1689.6" cy="375.9" r="4"/><circle cx="1692.3" cy="372" r="4"/><circle cx="1695.1" cy="368.1" r="4"/><circle cx="1697.9" cy="368.1" r="4"/><circle cx="1700.6" cy="364.2" r="4"/><circle cx="1703.4" cy="360.3" r="4"/><circle cx="1706.2" cy="356.4" r="4"/><circle cx="1708.9" cy="352.5" r="4"/><circle cx="1711.7" cy="352.5" r="4"/><circle cx="1714.5" cy="348.6" r="4"/><circle cx="1717.2" cy="344.7" r="4"/><circle cx="1720" cy="344.7" r="4"/><circle cx="1722.8" cy="340.8" r="4"/><circle cx="1725.5" cy="336.9" r="4"/><circle cx="1728.3" cy="336.9" r="4"/><circle cx="1731.1" cy="333" r="4"/><circle cx="1733.8" cy="329.1" r="4"/><circle cx="1736.6" cy="329.1" r="4"/><circle cx="1739.4" cy="325.2" r="4"/><circle cx="1742.1" cy="325.2" r="4"/><circle cx="1744.9" cy="321.3" r="4"/><circle cx="1747.6" cy="321.3" r="4"/><circle cx="1750.4" cy="317.4" r="4"/><circle cx="1753.2" cy="317.4" r="4"/><circle cx="1755.9" cy="313.5" r="4"/><circle cx="1758.7" cy="313.5" r="4"/><circle cx="1761.5" cy="309.6" r="4"/><circle cx="1764.2" cy="309.6" r="4"/><circle cx="1767" cy="305.7" r="4"/><circle cx="1769.8" cy="305.7" r="4"/><circle cx="1772.5" cy="301.9" r="4"/><circle cx="1775.3" cy="301.9" r="4"/><circle cx="1778.1" cy="298" r="4"/><circle cx="1780.8" cy="298" r="4"/><circle cx="1783.6" cy="294.1" r="4"/><circle cx="1786.4" cy="294.1" r="4"/><circle cx="1789.1" cy="290.2" r="4"/><circle cx="1791.9" cy="290.2" r="4"/><circle cx="1794.7" cy="286.3" r="4"/><circle cx="1797.4" cy="286.3" r="4"/><circle cx="1800.2" cy="282.4" r="4"/><circle cx="1803" cy="282.4" r="4"/><circle cx="1805.7" cy="282.4" r="4"/><circle cx="1808.5" cy="278.5" r="4"/><circle cx="1811.2" cy="278.5" r="4"/><circle cx="1814" cy="274.6" r="4"/><circle cx="1816.8" cy="274.6" r="4"/><circle cx="1819.5" cy="270.7" r="4"/><circle cx="1822.3" cy="270.7" r="4"/><circle cx="1825.1" cy="270.7" r="4"/><circle cx="1827.8" cy="266.8" r="4"/><circle cx="1830.6" cy="266.8" r="4"/><circle cx="1833.4" cy="262.9" r="4"/><circle cx="1836.1" cy="262.9" r="4"/><circle cx="1838.9" cy="262.9" r="4"/><circle cx="1841.7" cy="259" r="4"/><circle cx="1844.4" cy="259" r="4"/><circle cx="1847.2" cy="255.1" r="4"/><circle cx="1850" cy="255.1" r="4"/><circle cx="1852.7" cy="255.1" r="4"/><circle cx="1855.5" cy="251.2" r="4"/><circle cx="1858.3" cy="251.2" r="4"/><circle cx="1861" cy="247.3" r="4"/><circle cx="1863.8" cy="247.3" r="4"/><circle cx="1866.6" cy="243.4" r="4"/><circle cx="1869.3" cy="243.4" r="4"/><circle cx="1872.1" cy="239.5" r="4"/><circle cx="1874.8" cy="239.5" r="4"/><circle cx="1877.6" cy="239.5" r="4"/><circle cx="1880.4" cy="235.6" r="4"/><circle cx="1883.1" cy="235.6" r="4"/><circle cx="1885.9" cy="235.6" r="4"/><circle cx="1888.7" cy="231.7" r="4"/><circle cx="1891.4" cy="231.7" r="4"/><circle cx="1894.2" cy="227.8" r="4"/><circle cx="1897" cy="227.8" r="4"/><circle cx="1899.7" cy="227.8" r="4"/><circle cx="1902.5" cy="227.8" r="4"/><circle cx="1905.3" cy="223.9" r="4"/><circle cx="1908" cy="223.9" r="4"/><circle cx="1910.8" cy="220" r="4"/><circle cx="1913.6" cy="220" r="4"/><circle cx="1916.3" cy="220" r="4"/><circle cx="1919.1" cy="216.1" r="4"/><circle cx="1921.9" cy="216.1" r="4"/><circle cx="1924.6" cy="216.1" r="4"/><circle cx="1927.4" cy="212.2" r="4"/><circle cx="1930.2" cy="212.2" r="4"/><circle cx="1932.9" cy="212.2" r="4"/><circle cx="1935.7" cy="208.3" r="4"/><circle cx="1938.4" cy="208.3" r="4"/><circle cx="1941.2" cy="208.3" r="4"/><circle cx="1944" cy="204.5" r="4"/><circle cx="1946.7" cy="204.5" r="4"/><circle cx="1949.5" cy="204.5" r="4"/><circle cx="1952.3" cy="200.6" r="4"/><circle cx="1955" cy="200.6" r="4"/><circle cx="1957.8" cy="200.6" r="4"/><circle cx="1960.6" cy="196.7" r="4"/><circle cx="1963.3" cy="196.7" r="4"/><circle cx="1966.1" cy="196.7" r="4"/><circle cx="1968.9" cy="192.8" r="4"/><circle cx="1971.6" cy="192.8" r="4"/><circle cx="1974.4" cy="192.8" r="4"/><circle cx="1977.2" cy="188.9" r="4"/></g>
<g fill="#ff8000" clip-path="url(#clipb)"><circle cx="1147.6" cy="356.4" r="4"/><circle cx="1150.4" cy="356.4" r="4"/><circle cx="1153.1" cy="356.4" r="4"/><circle cx="1155.9" cy="356.4" r="4"/><circle cx="1158.7" cy="352.5" r="4"/><circle cx="1161.4" cy="352.5" r="4"/><circle cx="1164.2" cy="352.5" r="4"/><circle cx="1167" cy="348.6" r="4"/><circle cx="1169.7" cy="348.6" r="4"/><circle cx="1172.5" cy="344.7" r="4"/><circle cx="1175.3" cy="344.7" r="4"/><circle cx="1178" cy="344.7" r="4"/><circle cx="1180.8" cy="340.8" r="4"/><circle cx="1183.5" cy="340.8" r="4"/><circle cx="1186.3" cy="336.9" r="4"/><circle cx="1189.1" cy="336.9" r="4"/><circle cx="1191.8" cy="336.9" r="4"/><circle cx="1194.6" cy="333" r="4"/><circle cx="1197.4" cy="333" r="4"/><circle cx="1200.1" cy="329.1" r="4"/><circle cx="1202.9" cy="329.1" r="4"/><circle cx="1205.7" cy="325.2" r="4"/><circle cx="1208.4" cy="325.2" r="4"/><circle cx="1211.2" cy="321.3" r="4"/><circle cx="1214" cy="321.3" r="4"/><circle cx="1216.7" cy="317.4" r="4"/><circle cx="1219.5" cy="317.4" r="4"/><circle cx="1222.3" cy="317.4" r="4"/><circle cx="1225" cy="313.5" r="4"/><circle cx="1227.8" cy="313.5" r="4"/><circle cx="1230.6" cy="309.6" r="4"/><circle cx="1233.3" cy="309.6" r="4"/><circle cx="1236.1" cy="305.7" r="4"/><circle cx="1238.9" cy="305.7" r="4"/><circle cx="1241.6" cy="301.9" r="4"/><circle cx="1244.4" cy="301.9" r="4"/><circle cx="1247.1" cy="301.9" r="4"/><circle cx="1249.9" cy="298" r="4"/><circle cx="1252.7" cy="298" r="4"/><circle cx="1255.4" cy="294.1" r="4"/><circle cx="1258.2" cy="294.1" r="4"/><circle cx="1261" cy="290.2" r="4"/><circle cx="1263.7" cy="290.2" r="4"/><circle cx="1266.5" cy="286.3" r="4"/><circle cx="1269.3" cy="286.3" r="4"/><circle cx="1272" cy="282.4" r="4"/><circle cx="1274.8" cy="282.4" r="4"/><circle cx="1277.6" cy="278.5" r="4"/><circle cx="1280.3" cy="278.5" r="4"/><circle cx="1283.1" cy="274.6" r="4"/><circle cx="1285.9" cy="270.7" r="4"/><circle cx="1288.6" cy="270.7" r="4"/><circle cx="1291.4" cy="266.8" r="4"/><circle cx="1294.2" cy="266.8" r="4"/><circle cx="1296.9" cy="266.8" r="4"/><circle cx="1299.7" cy="262.9" r="4"/><circle cx="1302.5" cy="262.9" r="4"/><circle cx="1305.2" cy="259" r="4"/><circle cx="1308" cy="259" r="4"/><circle cx="1310.7" cy="255.1" r="4"/><circle cx="1313.5" cy="255.1" r="4"/><circle cx="1316.3" cy="251.2" r="4"/><circle cx="1319" cy="247.3" r="4"/><circle cx="1321.8" cy="247.3" r="4"/><circle cx="1324.6" cy="243.4" r="4"/><circle cx="1327.3" cy="239.5" r="4"/><circle cx="1330.1" cy="239.5" r="4"/><circle cx="1332.9" cy="235.6" r="4"/><circle cx="1335.6" cy="231.7" r="4"/><circle cx="1338.4" cy="231.7" r="4"/><circle cx="1341.2" cy="227.8" r="4"/><circle cx="1343.9" cy="223.9" r="4"/><circle cx="1346.7" cy="220" r="4"/><circle cx="1349.5" cy="220" r="4"/><circle cx="1352.2" cy="216.1" r="4"/><circle cx="1355" cy="212.2" r="4"/><circle cx="1357.8" cy="208.3" r="4"/><circle cx="1360.5" cy="208.3" r="4"/><circle cx="1363.3" cy="204.5" r="4"/><circle cx="1366.1" cy="200.6" r="4"/><circle cx="1368.8" cy="196.7" r="4"/><circle cx="1371.6" cy="196.7" r="4"/><circle cx="1374.3" cy="192.8" r="4"/><circle cx="1377.1" cy="188.9" r="4"/><circle cx="1379.9" cy="188.9" r="4"/><circle cx="1382.6" cy="185" r="4"/><circle cx="1385.4" cy="181.1" r="4"/><circle cx="1388.2" cy="181.1" r="4"/><circle cx="1390.9" cy="177.2" r="4"/><circle cx="1393.7" cy="177.2" r="4"/><circle cx="1396.5" cy="173.3" r="4"/><circle cx="1399.2" cy="169.4" r="4"/><circle cx="1402" cy="169.4" r="4"/><circle cx="1404.8" cy="169.4" r="4"/><circle cx="1407.5" cy="169.4" r="4"/><circle cx="1410.3" cy="169.4" r="4"/><circle cx="1413.1" cy="169.4" r="4"/><circle cx="1415.8" cy="173.3" r="4"/><circle cx="1418.6" cy="177.2" r="4"/><circle cx="1421.4" cy="181.1" r="4"/><circle cx="1424.1" cy="185" r="4"/><circle cx="1426.9" cy="188.9" r="4"/><circle cx="1429.7" cy="196.7" r="4"/><circle cx="1432.4" cy="200.6" r="4"/><circle cx="1435.2" cy="208.3" r="4"/><circle cx="1437.9" cy="216.1" r="4"/><circle cx="1440.7" cy="227.8" r="4"/><circle cx="1443.5" cy="235.6" r="4"/><circle cx="1446.2" cy="247.3" r="4"/><circle cx="1449" cy="255.1" r="4"/><circle cx="1451.8" cy="266.8" r="4"/><circle cx="1454.5" cy="278.5" r="4"/><circle cx="1457.3" cy="286.3" r="4"/><circle cx="1460.1" cy="298" r="4"/><circle cx="1462.8" cy="305.7" r="4"/><circle cx="1465.6" cy="313.5" r="4"/><circle cx="1468.4" cy="321.3" r="4"/><circle cx="1471.1" cy="329.1" r="4"/><circle cx="1473.9" cy="336.9" r="4"/><circle cx="1476.7" cy="344.7" r="4"/><circle cx="1479.4" cy="352.5" r="4"/><circle cx="1482.2" cy="356.4" r="4"/><circle cx="1485" cy="364.2" r="4"/><circle cx="1487.7" cy="368.1" r="4"/><circle cx="1490.5" cy="375.9" r="4"/><circle cx="1493.2" cy="379.8" r="4"/><circle cx="1496" cy="383.7" r="4"/><circle cx="1498.8" cy="387.6" r="4"/><circle cx="1501.5" cy="391.5" r="4"/><circle cx="1504.3" cy="395.4" r="4"/><circle cx="1507.1" cy="395.4" r="4"/><circle cx="1509.8" cy="399.3" r="4"/><circle cx="1512.6" cy="399.3" r="4"/><circle cx="1515.4" cy="399.3" r="4"/><circle cx="1518.1" cy="399.3" r="4"/><circle cx="1520.9" cy="399.3" r="4"/><circle cx="1523.7" cy="399.3" r="4"/><circle cx="1526.4" cy="399.3" r="4"/><circle cx="1529.2" cy="399.3" r="4"/><circle cx="1532" cy="399.3" r="4"/><circle cx="1534.7" cy="399.3" r="4"/><circle cx="1537.5" cy="399.3" r="4"/><circle cx="1540.3" cy="399.3" r="4"/><circle cx="1543" cy="399.3" r="4"/><circle cx="1545.8" cy="399.3" r="4"/><circle cx="1548.6" cy="395.4" r="4"/><circle cx="1551.3" cy="395.4" r="4"/><circle cx="1554.1" cy="391.5" r="4"/><circle cx="1556.8" cy="391.5" r="4"/><circle cx="1559.6" cy="387.6" r="4"/><circle cx="1562.4" cy="387.6" r="4"/><circle cx="1565.1" cy="383.7" r="4"/><circle cx="1567.9" cy="379.8" r="4"/><circle cx="1570.7" cy="375.9" r="4"/><circle cx="1573.4" cy="375.9" r="4"/><circle cx="1576.2" cy="372" r="4"/><circle cx="1579" cy="368.1" r="4"/><circle cx="1581.7" cy="364.2" r="4"/><circle cx="1584.5" cy="364.2" r="4"/><circle cx="1587.3" cy="360.3" r="4"/><circle cx="1590" cy="356.4" r="4"/><circle cx="1592.8" cy="352.5" r="4"/><circle cx="1595.6" cy="348.6" r="4"/><circle cx="1598.3" cy="344.7" r="4"/><circle cx="1601.1" cy="344.7" r="4"/><circle cx="1603.9" cy="340.8" r="4"/><circle cx="1606.6" cy="336.9" r="4"/><circle cx="1609.4" cy="333" r="4"/><circle cx="1612.2" cy="329.1" r="4"/><circle cx="1614.9" cy="329.1" r="4"/><circle cx="1617.7" cy="325.2" r="4"/><circle cx="1620.4" cy="321.3" r="4"/><circle cx="1623.2" cy="317.4" r="4"/><circle cx="1626" cy="317.4" r="4"/><circle cx="1628.7" cy="313.5" r="4"/><circle cx="1631.5" cy="309.6" r="4"/><circle cx="1634.3" cy="309.6" r="4"/><circle cx="1637" cy="305.7" r="4"/><circle cx="1639.8" cy="301.9" r="4"/><circle cx="1642.6" cy="301.9" r="4"/><circle cx="1645.3" cy="298" r="4"/><circle cx="1648.1" cy="294.1" r="4"/><circle cx="1650.9" cy="294.1" r="4"/><circle cx="1653.6" cy="290.2" r="4"/><circle cx="1656.4" cy="286.3" r="4"/><circle cx="1659.2" cy="286.3" r="4"/><circle cx="1661.9" cy="282.4" r="4"/><circle cx="1664.7" cy="278.5" r="4"/><circle cx="1667.5" cy="278.5" r="4"/><circle cx="1670.2" cy="274.6" r="4"/><circle cx="1673" cy="274.6" r="4"/><circle cx="1675.8" cy="270.7" r="4"/><circle cx="1678.5" cy="266.8" r="4"/><circle cx="1681.3" cy="266.8" r="4"/><circle cx="1684" cy="262.9" r="4"/><circle cx="1686.8" cy="262.9" r="4"/><circle cx="1689.6" cy="262.9" r="4"/><circle cx="1692.3" cy="259" r="4"/><circle cx="1695.1" cy="259" r="4"/><circle cx="1697.9" cy="255.1" r="4"/><circle cx="1700.6" cy="255.1" r="4"/><circle cx="1703.4" cy="251.2" r="4"/><circle cx="1706.2" cy="251.2" r="4"/><circle cx="1708.9" cy="247.3" r="4"/><circle cx="1711.7" cy="247.3" r="4"/><circle cx="1714.5" cy="243.4" r="4"/><circle cx="1717.2" cy="243.4" r="4"/><circle cx="1720" cy="239.5" r="4"/><circle cx="1722.8" cy="239.5" r="4"/><circle cx="1725.5" cy="235.6" r="4"/><circle cx="1728.3" cy="235.6" r="4"/><circle cx="1731.1" cy="231.7" r="4"/><circle cx="1733.8" cy="231.7" r="4"/><circle cx="1736.6" cy="227.8" r="4"/><circle cx="1739.4" cy="227.8" r="4"/><circle cx="1742.1" cy="223.9" r="4"/><circle cx="1744.9" cy="223.9" r="4"/><circle cx="1747.6" cy="223.9" r="4"/><circle cx="1750.4" cy="220" r="4"/><circle cx="1753.2" cy="220" r="4"/><circle cx="1755.9" cy="216.1" r="4"/><circle cx="1758.7" cy="216.1" r="4"/><circle cx="1761.5" cy="212.2" r="4"/><circle cx="1764.2" cy="212.2" r="4"/><circle cx="1767" cy="212.2" r="4"/><circle cx="1769.8" cy="208.3" r="4"/><circle cx="1772.5" cy="208.3" r="4"/><circle cx="1775.3" cy="204.5" r="4"/><circle cx="1778.1" cy="204.5" r="4"/><circle cx="1780.8" cy="200.6" r="4"/><circle cx="1783.6" cy="200.6" r="4"/><circle cx="1786.4" cy="200.6" r="4"/><circle cx="1789.1" cy="196.7" r="4"/><circle cx="1791.9" cy="196.7" r="4"/><circle cx="1794.7" cy="196.7" r="4"/><circle cx="1797.4" cy="192.8" r="4"/><circle cx="1800.2" cy="192.8" r="4"/><circle cx="1803" cy="188.9" r="4"/><circle cx="1805.7" cy="188.9" r="4"/><circle cx="1808.5" cy="188.9" r="4"/><circle cx="1811.2" cy="185" r="4"/><circle cx="1814" cy="185" r="4"/><circle cx="1816.8" cy="185" r="4"/><circle cx="1819.5" cy="181.1" r="4"/><circle cx="1822.3" cy="181.1" r="4"/><circle cx="1825.1" cy="177.2" r="4"/><circle cx="1827.8" cy="177.2" r="4"/><circle cx="1830.6" cy="177.2" r="4"/><circle cx="1833.4" cy="173.3" r="4"/><circle cx="1836.1" cy="173.3" r="4"/><circle cx="1838.9" cy="169.4" r="4"/><circle cx="1841.7" cy="169.4" r="4"/><circle cx="1844.4" cy="169.4" r="4"/><circle cx="1847.2" cy="165.5" r="4"/><circle cx="1850" cy="165.5" r="4"/><circle cx="1852.7" cy="165.5" r="4"/><circle cx="1855.5" cy="161.6" r="4"/><circle cx="1858.3" cy="161.6" r="4"/><circle cx="1861" cy="161.6" r="4"/><circle cx="1863.8" cy="157.7" r="4"/><circle cx="1866.6" cy="157.7" r="4"/><circle cx="1869.3" cy="153.8" r="4"/><circle cx="1872.1" cy="153.8" r="4"/><circle cx="1874.8" cy="153.8" r="4"/><circle cx="1877.6" cy="149.9" r="4"/><circle cx="1880.4" cy="149.9" r="4"/><circle cx="1883.1" cy="149.9" r="4"/><circle cx="1885.9" cy="149.9" r="4"/><circle cx="1888.7" cy="146" r="4"/><circle cx="1891.4" cy="146" r="4"/><circle cx="1894.2" cy="142.1" r="4"/><circle cx="1897" cy="142.1" r="4"/><circle cx="1899.7" cy="142.1" r="4"/><circle cx="1902.5" cy="138.2" r="4"/><circle cx="1905.3" cy="138.2" r="4"/><circle cx="1908" cy="138.2" r="4"/><circle cx="1910.8" cy="134.3" r="4"/><circle cx="1913.6" cy="134.3" r="4"/><circle cx="1916.3" cy="134.3" r="4"/><circle cx="1919.1" cy="130.4" r="4"/><circle cx="1921.9" cy="130.4" r="4"/><circle cx="1924.6" cy="130.4" r="4"/><circle cx="1927.4" cy="126.5" r="4"/><circle cx="1930.2" cy="126.5" r="4"/><circle cx="1932.9" cy="126.5" r="4"/><circle cx="1935.7" cy="122.6" r="4"/><circle cx="1938.4" cy="122.6" r="4"/><circle cx="1941.2" cy="122.6" r="4"/><circle cx="1944" cy="122.6" r="4"/><circle cx="1946.7" cy="118.7" r="4"/><circle cx="1949.5" cy="118.7" r="4"/><circle cx="1952.3" cy="118.7" r="4"/><circle cx="1955" cy="114.8" r="4"/><circle cx="1957.8" cy="114.8" r="4"/><circle cx="1960.6" cy="114.8" r="4"/><circle cx="1963.3" cy="110.9" r="4"/><circle cx="1966.1" cy="110.9" r="4"/><circle cx="1968.9" cy="110.9" r="4"/><circle cx="1971.6" cy="110.9" r="4"/><circle cx="1974.4" cy="107.1" r="4"/><circle cx="1977.2" cy="107.1" r="4"/></g>
<g fill="#8000ff" clip-path="url(#clipb)"><circle cx="1147.6" cy="313.5" r="4"/><circle cx="1150.4" cy="309.6" r="4"/><circle cx="1153.1" cy="309.6" r="4"/><circle cx="1155.9" cy="305.7" r="4"/><circle cx="1158.7" cy="305.7" r="4"/><circle cx="1161.4" cy="301.9" r="4"/><circle cx="1164.2" cy="301.9" r="4"/><circle cx="1167" cy="298" r="4"/><circle cx="1169.7" cy="298" r="4"/><circle cx="1172.5" cy="294.1" r="4"/><circle cx="1175.3" cy="294.1" r="4"/><circle cx="1178" cy="294.1" r="4"/><circle cx="1180.8" cy="290.2" r="4"/><circle cx="1183.5" cy="290.2" r="4"/><circle cx="1186.3" cy="286.3" r="4"/><circle cx="1189.1" cy="286.3" r="4"/><circle cx="1191.8" cy="282.4" r="4"/><circle cx="1194.6" cy="282.4" r="4"/><circle cx="1197.4" cy="278.5" r="4"/><circle cx="1200.1" cy="278.5" r="4"/><circle cx="1202.9" cy="278.5" r="4"/><circle cx="1205.7" cy="274.6" r="4"/><circle cx="1208.4" cy="274.6" r="4"/><circle cx="1211.2" cy="270.7" r="4"/><circle cx="1214" cy="266.8" r="4"/><circle cx="1216.7" cy="266.8" r="4"/><circle cx="1219.5" cy="262.9" r="4"/><circle cx="1222.3" cy="262.9" r="4"/><circle cx="1225" cy="259" r="4"/><circle cx="1227.8" cy="259" r="4"/><circle cx="1230.6" cy="255.1" r="4"/><circle cx="1233.3" cy="251.2" r="4"/><circle cx="1236.1" cy="251.2" r="4"/><circle cx="1238.9" cy="247.3" r="4"/><circle cx="1241.6" cy="247.3" r="4"/><circle cx="1244.4" cy="243.4" r="4"/><circle cx="1247.1" cy="239.5" r="4"/><circle cx="1249.9" cy="239.5" r="4"/><circle cx="1252.7" cy="235.6" r="4"/><circle cx="1255.4" cy="235.6" r="4"/><circle cx="1258.2" cy="231.7" r="4"/><circle cx="1261" cy="227.8" r="4"/><circle cx="1263.7" cy="227.8" r="4"/><circle cx="1266.5" cy="223.9" r="4"/><circle cx="1269.3" cy="220" r="4"/><circle cx="1272" cy="220" r="4"/><circle cx="1274.8" cy="216.1" r="4"/><circle cx="1277.6" cy="216.1" r="4"/><circle cx="1280.3" cy="212.2" r="4"/><circle cx="1283.1" cy="208.3" r="4"/><circle cx="1285.9" cy="208.3" r="4"/><circle cx="1288.6" cy="204.5" r="4"/><circle cx="1291.4" cy="204.5" r="4"/><circle cx="1294.2" cy="200.6" r="4"/><circle cx="1296.9" cy="196.7" r="4"/><circle cx="1299.7" cy="192.8" r="4"/><circle cx="1302.5" cy="192.8" r="4"/><circle cx="1305.2" cy="188.9" r="4"/><circle cx="1308" cy="185" r="4"/><circle cx="1310.7" cy="181.1" r="4"/><circle cx="1313.5" cy="177.2" r="4"/><circle cx="1316.3" cy="173.3" r="4"/><circle cx="1319" cy="173.3" r="4"/><circle cx="1321.8" cy="169.4" r="4"/><circle cx="1324.6" cy="165.5" r="4"/><circle cx="1327.3" cy="161.6" r="4"/><circle cx="1330.1" cy="157.7" r="4"/><circle cx="1332.9" cy="153.8" r="4"/><circle cx="1335.6" cy="149.9" r="4"/><circle cx="1338.4" cy="146" r="4"/><circle cx="1341.2" cy="146" r="4"/><circle cx="1343.9" cy="142.1" r="4"/><circle cx="1346.7" cy="142.1" r="4"/><circle cx="1349.5" cy="142.1" r="4"/><circle cx="1352.2" cy="142.1" r="4"/><circle cx="1355" cy="142.1" r="4"/><circle cx="1357.8" cy="142.1" r="4"/><circle cx="1360.5" cy="142.1" r="4"/><circle cx="1363.3" cy="142.1" r="4"/><circle cx="1366.1" cy="142.1" r="4"/><circle cx="1368.8" cy="146" r="4"/><circle cx="1371.6" cy="149.9" r="4"/><circle cx="1374.3" cy="149.9" r="4"/><circle cx="1377.1" cy="157.7" r="4"/><circle cx="1379.9" cy="165.5" r="4"/><circle cx="1382.6" cy="169.4" r="4"/><circle cx="1385.4" cy="177.2" r="4"/><circle cx="1388.2" cy="188.9" r="4"/><circle cx="1390.9" cy="196.7" r="4"/><circle cx="1393.7" cy="204.5" r="4"/><circle cx="1396.5" cy="216.1" r="4"/><circle cx="1399.2" cy="227.8" r="4"/><circle cx="1402" cy="239.5" r="4"/><circle cx="1404.8" cy="247.3" r="4"/><circle cx="1407.5" cy="259" r="4"/><circle cx="1410.3" cy="266.8" r="4"/><circle cx="1413.1" cy="278.5" r="4"/><circle cx="1415.8" cy="290.2" r="4"/><circle cx="1418.6" cy="298" r="4"/><circle cx="1421.4" cy="305.7" r="4"/><circle cx="1424.1" cy="313.5" r="4"/><circle cx="1426.9" cy="321.3" r="4"/><circle cx="1429.7" cy="329.1" r="4"/><circle cx="1432.4" cy="336.9" r="4"/><circle cx="1435.2" cy="344.7" r="4"/><circle cx="1437.9" cy="348.6" r="4"/><circle cx="1440.7" cy="356.4" r="4"/><circle cx="1443.5" cy="360.3" r="4"/><circle cx="1446.2" cy="368.1" r="4"/><circle cx="1449" cy="372" r="4"/><circle cx="1451.8" cy="372" r="4"/><circle cx="1454.5" cy="379.8" r="4"/><circle cx="1457.3" cy="383.7" r="4"/><circle cx="1460.1" cy="387.6" r="4"/><circle cx="1462.8" cy="387.6" r="4"/><circle cx="1465.6" cy="391.5" r="4"/><circle cx="1468.4" cy="391.5" r="4"/><circle cx="1471.1" cy="391.5" r="4"/><circle cx="1473.9" cy="395.4" r="4"/><circle cx="1476.7" cy="395.4" r="4"/><circle cx="1479.4" cy="395.4" r="4"/><circle cx="1482.2" cy="395.4" r="4"/><circle cx="1485" cy="395.4" r="4"/><circle cx="1487.7" cy="395.4" r="4"/><circle cx="1490.5" cy="395.4" r="4"/><circle cx="1493.2" cy="391.5" r="4"/><circle cx="1496" cy="391.5" r="4"/><circle cx="1498.8" cy="387.6" r="4"/><circle cx="1501.5" cy="387.6" r="4"/><circle cx="1504.3" cy="387.6" r="4"/><circle cx="1507.1" cy="383.7" r="4"/><circle cx="1509.8" cy="383.7" r="4"/><circle cx="1512.6" cy="379.8" r="4"/><circle cx="1515.4" cy="375.9" r="4"/><circle cx="1518.1" cy="375.9" r="4"/><circle cx="1520.9" cy="372" r="4"/><circle cx="1523.7" cy="368.1" r="4"/><circle cx="1526.4" cy="364.2" r="4"/><circle cx="1529.2" cy="360.3" r="4"/><circle cx="1532" cy="360.3" r="4"/><circle cx="1534.7" cy="356.4" r="4"/><circle cx="1537.5" cy="352.5" r="4"/><circle cx="1540.3" cy="348.6" r="4"/><circle cx="1543" cy="344.7" r="4"/><circle cx="1545.8" cy="340.8" r="4"/><circle cx="1548.6" cy="336.9" r="4"/><circle cx="1551.3" cy="333" r="4"/><circle cx="1554.1" cy="329.1" r="4"/><circle cx="1556.8" cy="329.1" r="4"/><circle cx="1559.6" cy="325.2" r="4"/><circle cx="1562.4" cy="321.3" r="4"/><circle cx="1565.1" cy="317.4" r="4"/><circle cx="1567.9" cy="313.5" r="4"/><circle cx="1570.7" cy="309.6" r="4"/><circle cx="1573.4" cy="305.7" r="4"/><circle cx="1576.2" cy="305.7" r="4"/><circle cx="1579" cy="301.9" r="4"/><circle cx="1581.7" cy="298" r="4"/><circle cx="1584.5" cy="294.1" r="4"/><circle cx="1587.3" cy="294.1" r="4"/><circle cx="1590" cy="290.2" r="4"/><circle cx="1592.8" cy="290.2" r="4"/><circle cx="1595.6" cy="286.3" r="4"/><circle cx="1598.3" cy="282.4" r="4"/><circle cx="1601.1" cy="282.4" r="4"/><circle cx="1603.9" cy="278.5" r="4"/><circle cx="1606.6" cy="274.6" r="4"/><circle cx="1609.4" cy="274.6" r="4"/><circle cx="1612.2" cy="270.7" r="4"/><circle cx="1614.9" cy="270.7" r="4"/><circle cx="1617.7" cy="266.8" r="4"/><circle cx="1620.4" cy="262.9" r="4"/><circle cx="1623.2" cy="262.9" r="4"/><circle cx="1626" cy="259" r="4"/><circle cx="1628.7" cy="259" r="4"/><circle cx="1631.5" cy="255.1" r="4"/><circle cx="1634.3" cy="251.2" r="4"/><circle cx="1637" cy="251.2" r="4"/><circle cx="1639.8" cy="247.3" r="4"/><circle cx="1642.6" cy="247.3" r="4"/><circle cx="1645.3" cy="243.4" r="4"/><circle cx="1648.1" cy="243.4" r="4"/><circle cx="1650.9" cy="239.5" r="4"/><circle cx="1653.6" cy="239.5" r="4"/><circle cx="1656.4" cy="235.6" r="4"/><circle cx="1659.2" cy="231.7" r="4"/><circle cx="1661.9" cy="231.7" r="4"/><circle cx="1664.7" cy="227.8" r="4"/><circle cx="1667.5" cy="227.8" r="4"/><circle cx="1670.2" cy="223.9" r="4"/><circle cx="1673" cy="223.9" r="4"/><circle cx="1675.8" cy="223.9" r="4"/><circle cx="1678.5" cy="220" r="4"/><circle cx="1681.3" cy="220" r="4"/><circle cx="1684" cy="216.1" r="4"/><circle cx="1686.8" cy="216.1" r="4"/><circle cx="1689.6" cy="212.2" r="4"/><circle cx="1692.3" cy="212.2" r="4"/><circle cx="1695.1" cy="208.3" r="4"/><circle cx="1697.9" cy="208.3" r="4"/><circle cx="1700.6" cy="208.3" r="4"/><circle cx="1703.4" cy="204.5" r="4"/><circle cx="1706.2" cy="204.5" r="4"/><circle cx="1708.9" cy="200.6" r="4"/><circle cx="1711.7" cy="200.6" r="4"/><circle cx="1714.5" cy="200.6" r="4"/><circle cx="1717.2" cy="196.7" r="4"/><circle cx="1720" cy="196.7" r="4"/><circle cx="1722.8" cy="192.8" r="4"/><circle cx="1725.5" cy="192.8" r="4"/><circle cx="1728.3" cy="192.8" r="4"/><circle cx="1731.1" cy="188.9" r="4"/><circle cx="1733.8" cy="188.9" r="4"/><circle cx="1736.6" cy="188.9" r="4"/><circle cx="1739.4" cy="185" r="4"/><circle cx="1742.1" cy="185" r="4"/><circle cx="1744.9" cy="181.1" r="4"/><circle cx="1747.6" cy="181.1" r="4"/><circle cx="1750.4" cy="181.1" r="4"/><circle cx="1753.2" cy="177.2" r="4"/><circle cx="1755.9" cy="177.2" r="4"/><circle cx="1758.7" cy="173.3" r="4"/><circle cx="1761.5" cy="173.3" r="4"/><circle cx="1764.2" cy="173.3" r="4"/><circle cx="1767" cy="169.4" r="4"/><circle cx="1769.8" cy="169.4" r="4"/><circle cx="1772.5" cy="165.5" r="4"/><circle cx="1775.3" cy="165.5" r="4"/><circle cx="1778.1" cy="165.5" r="4"/><circle cx="1780.8" cy="161.6" r="4"/><circle cx="1783.6" cy="161.6" r="4"/><circle cx="1786.4" cy="157.7" r="4"/><circle cx="1789.1" cy="157.7" r="4"/><circle cx="1791.9" cy="153.8" r="4"/><circle cx="1794.7" cy="153.8" r="4"/><circle cx="1797.4" cy="149.9" r="4"/><circle cx="1800.2" cy="149.9" r="4"/><circle cx="1803" cy="149.9" r="4"/><circle cx="1805.7" cy="146" r="4"/><circle cx="1808.5" cy="146" r="4"/><circle cx="1811.2" cy="142.1" r="4"/><circle cx="1814" cy="142.1" r="4"/><circle cx="1816.8" cy="142.1" r="4"/><circle cx="1819.5" cy="138.2" r="4"/><circle cx="1822.3" cy="138.2" r="4"/><circle cx="1825.1" cy="138.2" r="4"/><circle cx="1827.8" cy="134.3" r="4"/><circle cx="1830.6" cy="134.3" r="4"/><circle cx="1833.4" cy="134.3" r="4"/><circle cx="1836.1" cy="130.4" r="4"/><circle cx="1838.9" cy="130.4" r="4"/><circle cx="1841.7" cy="130.4" r="4"/><circle cx="1844.4" cy="126.5" r="4"/><circle cx="1847.2" cy="126.5" r="4"/><circle cx="1850" cy="126.5" r="4"/><circle cx="1852.7" cy="122.6" r="4"/><circle cx="1855.5" cy="122.6" r="4"/><circle cx="1858.3" cy="122.6" r="4"/><circle cx="1861" cy="118.7" r="4"/><circle cx="1863.8" cy="118.7" r="4"/><circle cx="1866.6" cy="118.7" r="4"/><circle cx="1869.3" cy="114.8" r="4"/><circle cx="1872.1" cy="114.8" r="4"/><circle cx="1874.8" cy="114.8" r="4"/><circle cx="1877.6" cy="110.9" r="4"/><circle cx="1880.4" cy="110.9" r="4"/><circle cx="1883.1" cy="110.9" r="4"/><circle cx="1885.9" cy="107.1" r="4"/><circle cx="1888.7" cy="107.1" r="4"/><circle cx="1891.4" cy="107.1" r="4"/><circle cx="1894.2" cy="103.2" r="4"/><circle cx="1897" cy="103.2" r="4"/><circle cx="1899.7" cy="103.2" r="4"/><circle cx="1902.5" cy="99.3" r="4"/><circle cx="1905.3" cy="99.3" r="4"/><circle cx="1908" cy="99.3" r="4"/><circle cx="1910.8" cy="95.4" r="4"/><circle cx="1913.6" cy="95.4" r="4"/><circle cx="1916.3" cy="95.4" r="4"/><circle cx="1919.1" cy="91.5" r="4"/><circle cx="1921.9" cy="91.5" r="4"/><circle cx="1924.6" cy="91.5" r="4"/><circle cx="1927.4" cy="87.6" r="4"/><circle cx="1930.2" cy="87.6" r="4"/><circle cx="1932.9" cy="87.6" r="4"/><circle cx="1935.7" cy="87.6" r="4"/><circle cx="1938.4" cy="83.7" r="4"/><circle cx="1941.2" cy="83.7" r="4"/><circle cx="1944" cy="83.7" r="4"/><circle cx="1946.7" cy="79.8" r="4"/><circle cx="1949.5" cy="79.8" r="4"/><circle cx="1952.3" cy="79.8" r="4"/><circle cx="1955" cy="75.9" r="4"/><circle cx="1957.8" cy="75.9" r="4"/><circle cx="1960.6" cy="75.9" r="4"/><circle cx="1963.3" cy="72" r="4"/><circle cx="1966.1" cy="72" r="4"/><circle cx="1968.9" cy="72" r="4"/><circle cx="1971.6" cy="72" r="4"/><circle cx="1974.4" cy="68.1" r="4"/><circle cx="1977.2" cy="68.1" r="4"/></g>
<line x1="1147.6" y1="13" x2="1147.6" y2="616.3" stroke="#000" stroke-width="2.7" />
<line x1="1136.1" y1="605.8" x2="1988.2" y2="605.8" stroke="#000" stroke-width="2.7" />
<line x1="1147.6" y1="25.7" x2="1977.2" y2="25.7" stroke="#000" stroke-width="2.4000000000000004" />
<line x1="1977.2" y1="25.7" x2="1977.2" y2="616.3" stroke="#000" stroke-width="2.4000000000000004" />
<line x1="1216.7" y1="605.8" x2="1216.7" y2="610.8" stroke="#000" stroke-width="2.7" />
<line x1="1285.9" y1="605.8" x2="1285.9" y2="616.3" stroke="#000" stroke-width="2.7" />
<line x1="1355" y1="605.8" x2="1355" y2="610.8" stroke="#000" stroke-width="2.7" />
<line x1="1424.1" y1="605.8" x2="1424.1" y2="616.3" stroke="#000" stroke-width="2.7" />
<line x1="1493.2" y1="605.8" x2="1493.2" y2="610.8" stroke="#000" stroke-width="2.7" />
<line x1="1562.4" y1="605.8" x2="1562.4" y2="616.3" stroke="#000" stroke-width="2.7" />
<line x1="1631.5" y1="605.8" x2="1631.5" y2="610.8" stroke="#000" stroke-width="2.7" />
<line x1="1700.6" y1="605.8" x2="1700.6" y2="616.3" stroke="#000" stroke-width="2.7" />
<line x1="1769.8" y1="605.8" x2="1769.8" y2="610.8" stroke="#000" stroke-width="2.7" />
<line x1="1838.9" y1="605.8" x2="1838.9" y2="616.3" stroke="#000" stroke-width="2.7" />
<line x1="1908" y1="605.8" x2="1908" y2="610.8" stroke="#000" stroke-width="2.7" />
<text transform="translate(1118.5 653.1)" font-family='"Liberation Serif", "DejaVu Serif", serif' font-size="38.5" fill="#000">370</text>
<text transform="translate(1257.1 653.1)" font-family='"Liberation Serif", "DejaVu Serif", serif' font-size="38.5" fill="#000">372</text>
<text transform="translate(1394.6 653.1)" font-family='"Liberation Serif", "DejaVu Serif", serif' font-size="38.5" fill="#000">374</text>
<text transform="translate(1533.2 653.1)" font-family='"Liberation Serif", "DejaVu Serif", serif' font-size="38.5" fill="#000">376</text>
<text transform="translate(1671.6 653.1)" font-family='"Liberation Serif", "DejaVu Serif", serif' font-size="38.5" fill="#000">378</text>
<text transform="translate(1809.8 653.1)" font-family='"Liberation Serif", "DejaVu Serif", serif' font-size="38.5" fill="#000">380</text>
<text transform="translate(1948.4 653.1)" font-family='"Liberation Serif", "DejaVu Serif", serif' font-size="38.5" fill="#000">382</text>
<line x1="1141.6" y1="566.8" x2="1147.6" y2="566.8" stroke="#000" stroke-width="2.7" />
<line x1="1136.1" y1="527.8" x2="1147.6" y2="527.8" stroke="#000" stroke-width="2.7" />
<line x1="1141.6" y1="488.9" x2="1147.6" y2="488.9" stroke="#000" stroke-width="2.7" />
<line x1="1136.1" y1="449.9" x2="1147.6" y2="449.9" stroke="#000" stroke-width="2.7" />
<line x1="1141.6" y1="410.9" x2="1147.6" y2="410.9" stroke="#000" stroke-width="2.7" />
<line x1="1136.1" y1="372" x2="1147.6" y2="372" stroke="#000" stroke-width="2.7" />
<line x1="1141.6" y1="333" x2="1147.6" y2="333" stroke="#000" stroke-width="2.7" />
<line x1="1136.1" y1="294.1" x2="1147.6" y2="294.1" stroke="#000" stroke-width="2.7" />
<line x1="1141.6" y1="255.1" x2="1147.6" y2="255.1" stroke="#000" stroke-width="2.7" />
<line x1="1136.1" y1="216.1" x2="1147.6" y2="216.1" stroke="#000" stroke-width="2.7" />
<line x1="1141.6" y1="177.2" x2="1147.6" y2="177.2" stroke="#000" stroke-width="2.7" />
<line x1="1136.1" y1="138.2" x2="1147.6" y2="138.2" stroke="#000" stroke-width="2.7" />
<line x1="1141.6" y1="99.3" x2="1147.6" y2="99.3" stroke="#000" stroke-width="2.7" />
<line x1="1136.1" y1="60.3" x2="1147.6" y2="60.3" stroke="#000" stroke-width="2.7" />
<text transform="translate(1060.6 617.3)" font-family='"Liberation Serif", "DejaVu Serif", serif' font-size="38.8" fill="#000">2.60</text>
<text transform="translate(1061.2 539.4)" font-family='"Liberation Serif", "DejaVu Serif", serif' font-size="38.8" fill="#000">2.62</text>
<text transform="translate(1059.7 461.5)" font-family='"Liberation Serif", "DejaVu Serif", serif' font-size="38.8" fill="#000">2.64</text>
<text transform="translate(1060.3 383.6)" font-family='"Liberation Serif", "DejaVu Serif", serif' font-size="38.8" fill="#000">2.66</text>
<text transform="translate(1060.6 305.7)" font-family='"Liberation Serif", "DejaVu Serif", serif' font-size="38.8" fill="#000">2.68</text>
<text transform="translate(1060.6 227.7)" font-family='"Liberation Serif", "DejaVu Serif", serif' font-size="38.8" fill="#000">2.70</text>
<text transform="translate(1061.2 149.8)" font-family='"Liberation Serif", "DejaVu Serif", serif' font-size="38.8" fill="#000">2.72</text>
<text transform="translate(1059.7 71.9)" font-family='"Liberation Serif", "DejaVu Serif", serif' font-size="38.8" fill="#000">2.74</text>
<line x1="1493.2" y1="14.7" x2="1493.2" y2="25.7" stroke="#000" stroke-width="2.2" />
<line x1="1838.9" y1="14.7" x2="1838.9" y2="25.7" stroke="#000" stroke-width="2.2" />
<line x1="1977.2" y1="216.1" x2="1988.2" y2="216.1" stroke="#000" stroke-width="1.8" />
<line x1="1977.2" y1="410.9" x2="1983.2" y2="410.9" stroke="#000" stroke-width="1.8" />
<text transform="translate(1041.3 31.9)" font-family='"Liberation Serif", "DejaVu Serif", serif' font-size="36.5" fill="#000">|</text>
<text transform="translate(1050.8 31.9)" font-family='"Liberation Serif", "DejaVu Serif", serif' font-size="36.5" font-style="italic" fill="#000">Y</text>
<text transform="translate(1072 31.9)" font-family='"Liberation Serif", "DejaVu Serif", serif' font-size="36.5" fill="#000">|</text>
<text transform="translate(1087.3 31.9) scale(0.97 1)" font-family='"Liberation Serif", "DejaVu Serif", serif' font-size="36.5" fill="#000">[μS]</text>
<text transform="translate(1467.9 695.3) scale(1.06 1) skewX(-7)" font-family='"Liberation Serif", "DejaVu Serif", serif' font-size="38" font-style="italic" fill="#000">f</text>
<text transform="translate(1493 695.3) scale(0.98 1)" font-family='"Liberation Serif", "DejaVu Serif", serif' font-size="38.5" fill="#000">[kHz]</text>
<text transform="translate(1073.1 712.7)" font-family='"Liberation Serif", "DejaVu Serif", serif' font-size="39" fill="#000">b</text>
<text transform="translate(1091 712.7)" font-family='"Liberation Serif", "DejaVu Serif", serif' font-size="31.5" fill="#000">)</text>
<text transform="translate(1753.5 114.5)" font-family='"Liberation Serif", "DejaVu Serif", serif' font-size="38" font-style="italic" fill="#000">T</text>
<line x1="1913" y1="335.2" x2="1773.3" y2="137" stroke="#000" stroke-width="3.0" />
<path d="M1766.1 126.8 L1779.2 136.7 L1771 142.4 Z" fill="#000"/>
<text transform="translate(1817.9 441.7) scale(1.045 1)" font-family='"Liberation Sans", "DejaVu Sans", sans-serif' font-size="28.6" font-weight="bold" fill="#8000ff">317.1</text>
<text transform="translate(1900.3 441.7) scale(1.045 1)" font-family='"Liberation Sans", "DejaVu Sans", sans-serif' font-size="28.6" font-weight="bold" fill="#000">K</text>
<text transform="translate(1817.9 478.4) scale(1.045 1)" font-family='"Liberation Sans", "DejaVu Sans", sans-serif' font-size="28.6" font-weight="bold" fill="#ff8000">312.5</text>
<text transform="translate(1900.3 478.4) scale(1.045 1)" font-family='"Liberation Sans", "DejaVu Sans", sans-serif' font-size="28.6" font-weight="bold" fill="#000">K</text>
<text transform="translate(1817.9 515.2) scale(1.045 1)" font-family='"Liberation Sans", "DejaVu Sans", sans-serif' font-size="28.6" font-weight="bold" fill="#ff0000">302.9</text>
<text transform="translate(1900.3 515.2) scale(1.045 1)" font-family='"Liberation Sans", "DejaVu Sans", sans-serif' font-size="28.6" font-weight="bold" fill="#000">K</text>
<text transform="translate(1817.6 554.8) scale(1.045 1)" font-family='"Liberation Sans", "DejaVu Sans", sans-serif' font-size="28.6" font-weight="bold" fill="#000">296.2</text>
<text transform="translate(1900.3 554.8) scale(1.045 1)" font-family='"Liberation Sans", "DejaVu Sans", sans-serif' font-size="28.6" font-weight="bold" fill="#000">K</text>
</g>
<g id="panel-c">
<rect x="134.4" y="796.5" width="804.4" height="647.5" fill="none" stroke="#000" stroke-width="2.7"/>
<line x1="134.4" y1="1444" x2="134.4" y2="1456.4" stroke="#000" stroke-width="2.7" />
<line x1="134.4" y1="785.5" x2="134.4" y2="796.5" stroke="#000" stroke-width="2.7" />
<text transform="translate(100.1 1497.8) scale(1.04 1)" font-family='"Liberation Serif", "DejaVu Serif", serif' font-size="43.7" fill="#000">290</text>
<line x1="197.2" y1="1444" x2="197.2" y2="1450.5" stroke="#000" stroke-width="2.7" />
<line x1="197.2" y1="791.5" x2="197.2" y2="796.5" stroke="#000" stroke-width="2.7" />
<line x1="260" y1="1444" x2="260" y2="1456.4" stroke="#000" stroke-width="2.7" />
<line x1="260" y1="785.5" x2="260" y2="796.5" stroke="#000" stroke-width="2.7" />
<text transform="translate(225.8 1497.8) scale(1.04 1)" font-family='"Liberation Serif", "DejaVu Serif", serif' font-size="43.7" fill="#000">295</text>
<line x1="322.8" y1="1444" x2="322.8" y2="1450.5" stroke="#000" stroke-width="2.7" />
<line x1="322.8" y1="791.5" x2="322.8" y2="796.5" stroke="#000" stroke-width="2.7" />
<line x1="385.6" y1="1444" x2="385.6" y2="1456.4" stroke="#000" stroke-width="2.7" />
<line x1="385.6" y1="785.5" x2="385.6" y2="796.5" stroke="#000" stroke-width="2.7" />
<text transform="translate(351.3 1497.8) scale(1.04 1)" font-family='"Liberation Serif", "DejaVu Serif", serif' font-size="43.7" fill="#000">300</text>
<line x1="448.4" y1="1444" x2="448.4" y2="1450.5" stroke="#000" stroke-width="2.7" />
<line x1="448.4" y1="791.5" x2="448.4" y2="796.5" stroke="#000" stroke-width="2.7" />
<line x1="511.2" y1="1444" x2="511.2" y2="1456.4" stroke="#000" stroke-width="2.7" />
<line x1="511.2" y1="785.5" x2="511.2" y2="796.5" stroke="#000" stroke-width="2.7" />
<text transform="translate(476.9 1497.8) scale(1.04 1)" font-family='"Liberation Serif", "DejaVu Serif", serif' font-size="43.7" fill="#000">305</text>
<line x1="574" y1="1444" x2="574" y2="1450.5" stroke="#000" stroke-width="2.7" />
<line x1="574" y1="791.5" x2="574" y2="796.5" stroke="#000" stroke-width="2.7" />
<line x1="636.8" y1="1444" x2="636.8" y2="1456.4" stroke="#000" stroke-width="2.7" />
<line x1="636.8" y1="785.5" x2="636.8" y2="796.5" stroke="#000" stroke-width="2.7" />
<text transform="translate(602.5 1497.8) scale(1.04 1)" font-family='"Liberation Serif", "DejaVu Serif", serif' font-size="43.7" fill="#000">310</text>
<line x1="699.6" y1="1444" x2="699.6" y2="1450.5" stroke="#000" stroke-width="2.7" />
<line x1="699.6" y1="791.5" x2="699.6" y2="796.5" stroke="#000" stroke-width="2.7" />
<line x1="762.4" y1="1444" x2="762.4" y2="1456.4" stroke="#000" stroke-width="2.7" />
<line x1="762.4" y1="785.5" x2="762.4" y2="796.5" stroke="#000" stroke-width="2.7" />
<text transform="translate(728.1 1497.8) scale(1.04 1)" font-family='"Liberation Serif", "DejaVu Serif", serif' font-size="43.7" fill="#000">315</text>
<line x1="825.2" y1="1444" x2="825.2" y2="1450.5" stroke="#000" stroke-width="2.7" />
<line x1="825.2" y1="791.5" x2="825.2" y2="796.5" stroke="#000" stroke-width="2.7" />
<line x1="888" y1="1444" x2="888" y2="1456.4" stroke="#000" stroke-width="2.7" />
<line x1="888" y1="785.5" x2="888" y2="796.5" stroke="#000" stroke-width="2.7" />
<text transform="translate(853.7 1497.8) scale(1.04 1)" font-family='"Liberation Serif", "DejaVu Serif", serif' font-size="43.7" fill="#000">320</text>
<line x1="127.9" y1="1443.9" x2="134.4" y2="1443.9" stroke="#000" stroke-width="2.7" />
<line x1="932" y1="1443.9" x2="938.8" y2="1443.9" stroke="#000" stroke-width="2.7" />
<line x1="121" y1="1357.6" x2="134.4" y2="1357.6" stroke="#000" stroke-width="2.7" />
<line x1="925.8" y1="1357.6" x2="938.8" y2="1357.6" stroke="#000" stroke-width="2.7" />
<text transform="translate(56.2 1370.6) scale(1.04 1)" font-family='"Liberation Serif", "DejaVu Serif", serif' font-size="43.7" fill="#000">4.6</text>
<line x1="127.9" y1="1271.3" x2="134.4" y2="1271.3" stroke="#000" stroke-width="2.7" />
<line x1="932" y1="1271.3" x2="938.8" y2="1271.3" stroke="#000" stroke-width="2.7" />
<line x1="121" y1="1185" x2="134.4" y2="1185" stroke="#000" stroke-width="2.7" />
<line x1="925.8" y1="1185" x2="938.8" y2="1185" stroke="#000" stroke-width="2.7" />
<text transform="translate(56.5 1198) scale(1.04 1)" font-family='"Liberation Serif", "DejaVu Serif", serif' font-size="43.7" fill="#000">4.8</text>
<line x1="127.9" y1="1098.7" x2="134.4" y2="1098.7" stroke="#000" stroke-width="2.7" />
<line x1="932" y1="1098.7" x2="938.8" y2="1098.7" stroke="#000" stroke-width="2.7" />
<line x1="121" y1="1012.4" x2="134.4" y2="1012.4" stroke="#000" stroke-width="2.7" />
<line x1="925.8" y1="1012.4" x2="938.8" y2="1012.4" stroke="#000" stroke-width="2.7" />
<text transform="translate(56.5 1025.4) scale(1.04 1)" font-family='"Liberation Serif", "DejaVu Serif", serif' font-size="43.7" fill="#000">5.0</text>
<line x1="127.9" y1="926.1" x2="134.4" y2="926.1" stroke="#000" stroke-width="2.7" />
<line x1="932" y1="926.1" x2="938.8" y2="926.1" stroke="#000" stroke-width="2.7" />
<line x1="121" y1="839.8" x2="134.4" y2="839.8" stroke="#000" stroke-width="2.7" />
<line x1="925.8" y1="839.8" x2="938.8" y2="839.8" stroke="#000" stroke-width="2.7" />
<text transform="translate(57.3 852.8) scale(1.04 1)" font-family='"Liberation Serif", "DejaVu Serif", serif' font-size="43.7" fill="#000">5.2</text>
<line x1="223.1" y1="1185" x2="223.1" y2="1357.6" stroke="#000" stroke-width="3" />
<line x1="217.6" y1="1185" x2="228.6" y2="1185" stroke="#000" stroke-width="2.6" />
<line x1="217.6" y1="1357.6" x2="228.6" y2="1357.6" stroke="#000" stroke-width="2.6" />
<line x1="290.1" y1="1021" x2="290.1" y2="1193.6" stroke="#000" stroke-width="3" />
<line x1="284.6" y1="1021" x2="295.6" y2="1021" stroke="#000" stroke-width="2.6" />
<line x1="284.6" y1="1193.6" x2="295.6" y2="1193.6" stroke="#000" stroke-width="2.6" />
<line x1="334.1" y1="1055.6" x2="334.1" y2="1228.2" stroke="#000" stroke-width="3" />
<line x1="328.6" y1="1055.6" x2="339.6" y2="1055.6" stroke="#000" stroke-width="2.6" />
<line x1="328.6" y1="1228.2" x2="339.6" y2="1228.2" stroke="#000" stroke-width="2.6" />
<line x1="468.5" y1="1029.7" x2="468.5" y2="1202.3" stroke="#000" stroke-width="3" />
<line x1="463" y1="1029.7" x2="474" y2="1029.7" stroke="#000" stroke-width="2.6" />
<line x1="463" y1="1202.3" x2="474" y2="1202.3" stroke="#000" stroke-width="2.6" />
<line x1="586.6" y1="1133.2" x2="586.6" y2="1305.8" stroke="#000" stroke-width="3" />
<line x1="581.1" y1="1133.2" x2="592.1" y2="1133.2" stroke="#000" stroke-width="2.6" />
<line x1="581.1" y1="1305.8" x2="592.1" y2="1305.8" stroke="#000" stroke-width="2.6" />
<line x1="601.6" y1="969.2" x2="601.6" y2="1141.8" stroke="#000" stroke-width="3" />
<line x1="596.1" y1="969.2" x2="607.1" y2="969.2" stroke="#000" stroke-width="2.6" />
<line x1="596.1" y1="1141.8" x2="607.1" y2="1141.8" stroke="#000" stroke-width="2.6" />
<line x1="699.6" y1="1098.7" x2="699.6" y2="1271.3" stroke="#000" stroke-width="3" />
<line x1="694.1" y1="1098.7" x2="705.1" y2="1098.7" stroke="#000" stroke-width="2.6" />
<line x1="694.1" y1="1271.3" x2="705.1" y2="1271.3" stroke="#000" stroke-width="2.6" />
<line x1="736" y1="977.9" x2="736" y2="1150.5" stroke="#000" stroke-width="3" />
<line x1="730.5" y1="977.9" x2="741.5" y2="977.9" stroke="#000" stroke-width="2.6" />
<line x1="730.5" y1="1150.5" x2="741.5" y2="1150.5" stroke="#000" stroke-width="2.6" />
<line x1="815.2" y1="995.1" x2="815.2" y2="1167.7" stroke="#000" stroke-width="3" />
<line x1="809.7" y1="995.1" x2="820.7" y2="995.1" stroke="#000" stroke-width="2.6" />
<line x1="809.7" y1="1167.7" x2="820.7" y2="1167.7" stroke="#000" stroke-width="2.6" />
<line x1="847.8" y1="865.7" x2="847.8" y2="1038.3" stroke="#000" stroke-width="3" />
<line x1="842.3" y1="865.7" x2="853.3" y2="865.7" stroke="#000" stroke-width="2.6" />
<line x1="842.3" y1="1038.3" x2="853.3" y2="1038.3" stroke="#000" stroke-width="2.6" />
<g fill="#ff0000"><circle cx="223.1" cy="1271.3" r="13.3"/><circle cx="290.1" cy="1107.3" r="13.3"/><circle cx="334.1" cy="1141.9" r="13.3"/><circle cx="468.5" cy="1116" r="13.3"/><circle cx="586.6" cy="1219.5" r="13.3"/><circle cx="601.6" cy="1055.5" r="13.3"/><circle cx="699.6" cy="1185" r="13.3"/><circle cx="736" cy="1064.2" r="13.3"/><circle cx="815.2" cy="1081.4" r="13.3"/><circle cx="847.8" cy="952" r="13.3"/></g>
<line x1="223.1" y1="1202.3" x2="847.8" y2="1046.9" stroke="#000" stroke-width="4.3" stroke-dasharray="9 6"/>
<text transform="translate(498 1549.3)" font-family='"Liberation Serif", "DejaVu Serif", serif' font-size="43.5" font-style="italic" fill="#000">T</text>
<text transform="translate(530.9 1549.3)" font-family='"Liberation Serif", "DejaVu Serif", serif' font-size="44" fill="#000">[K]</text>
<text transform="translate(4.9 1549.8)" font-family='"Liberation Serif", "DejaVu Serif", serif' font-size="45" fill="#000">c)</text>
<text transform="translate(38.6 1156.5) rotate(-90)" font-family='"Liberation Serif", "DejaVu Serif", serif' font-size="43.5" fill="#000"><tspan font-style="italic">d</tspan><tspan dy="8.5">32</tspan><tspan dy="-8.5"> [pm/V]</tspan></text>
</g>
</svg>
</body></html>
